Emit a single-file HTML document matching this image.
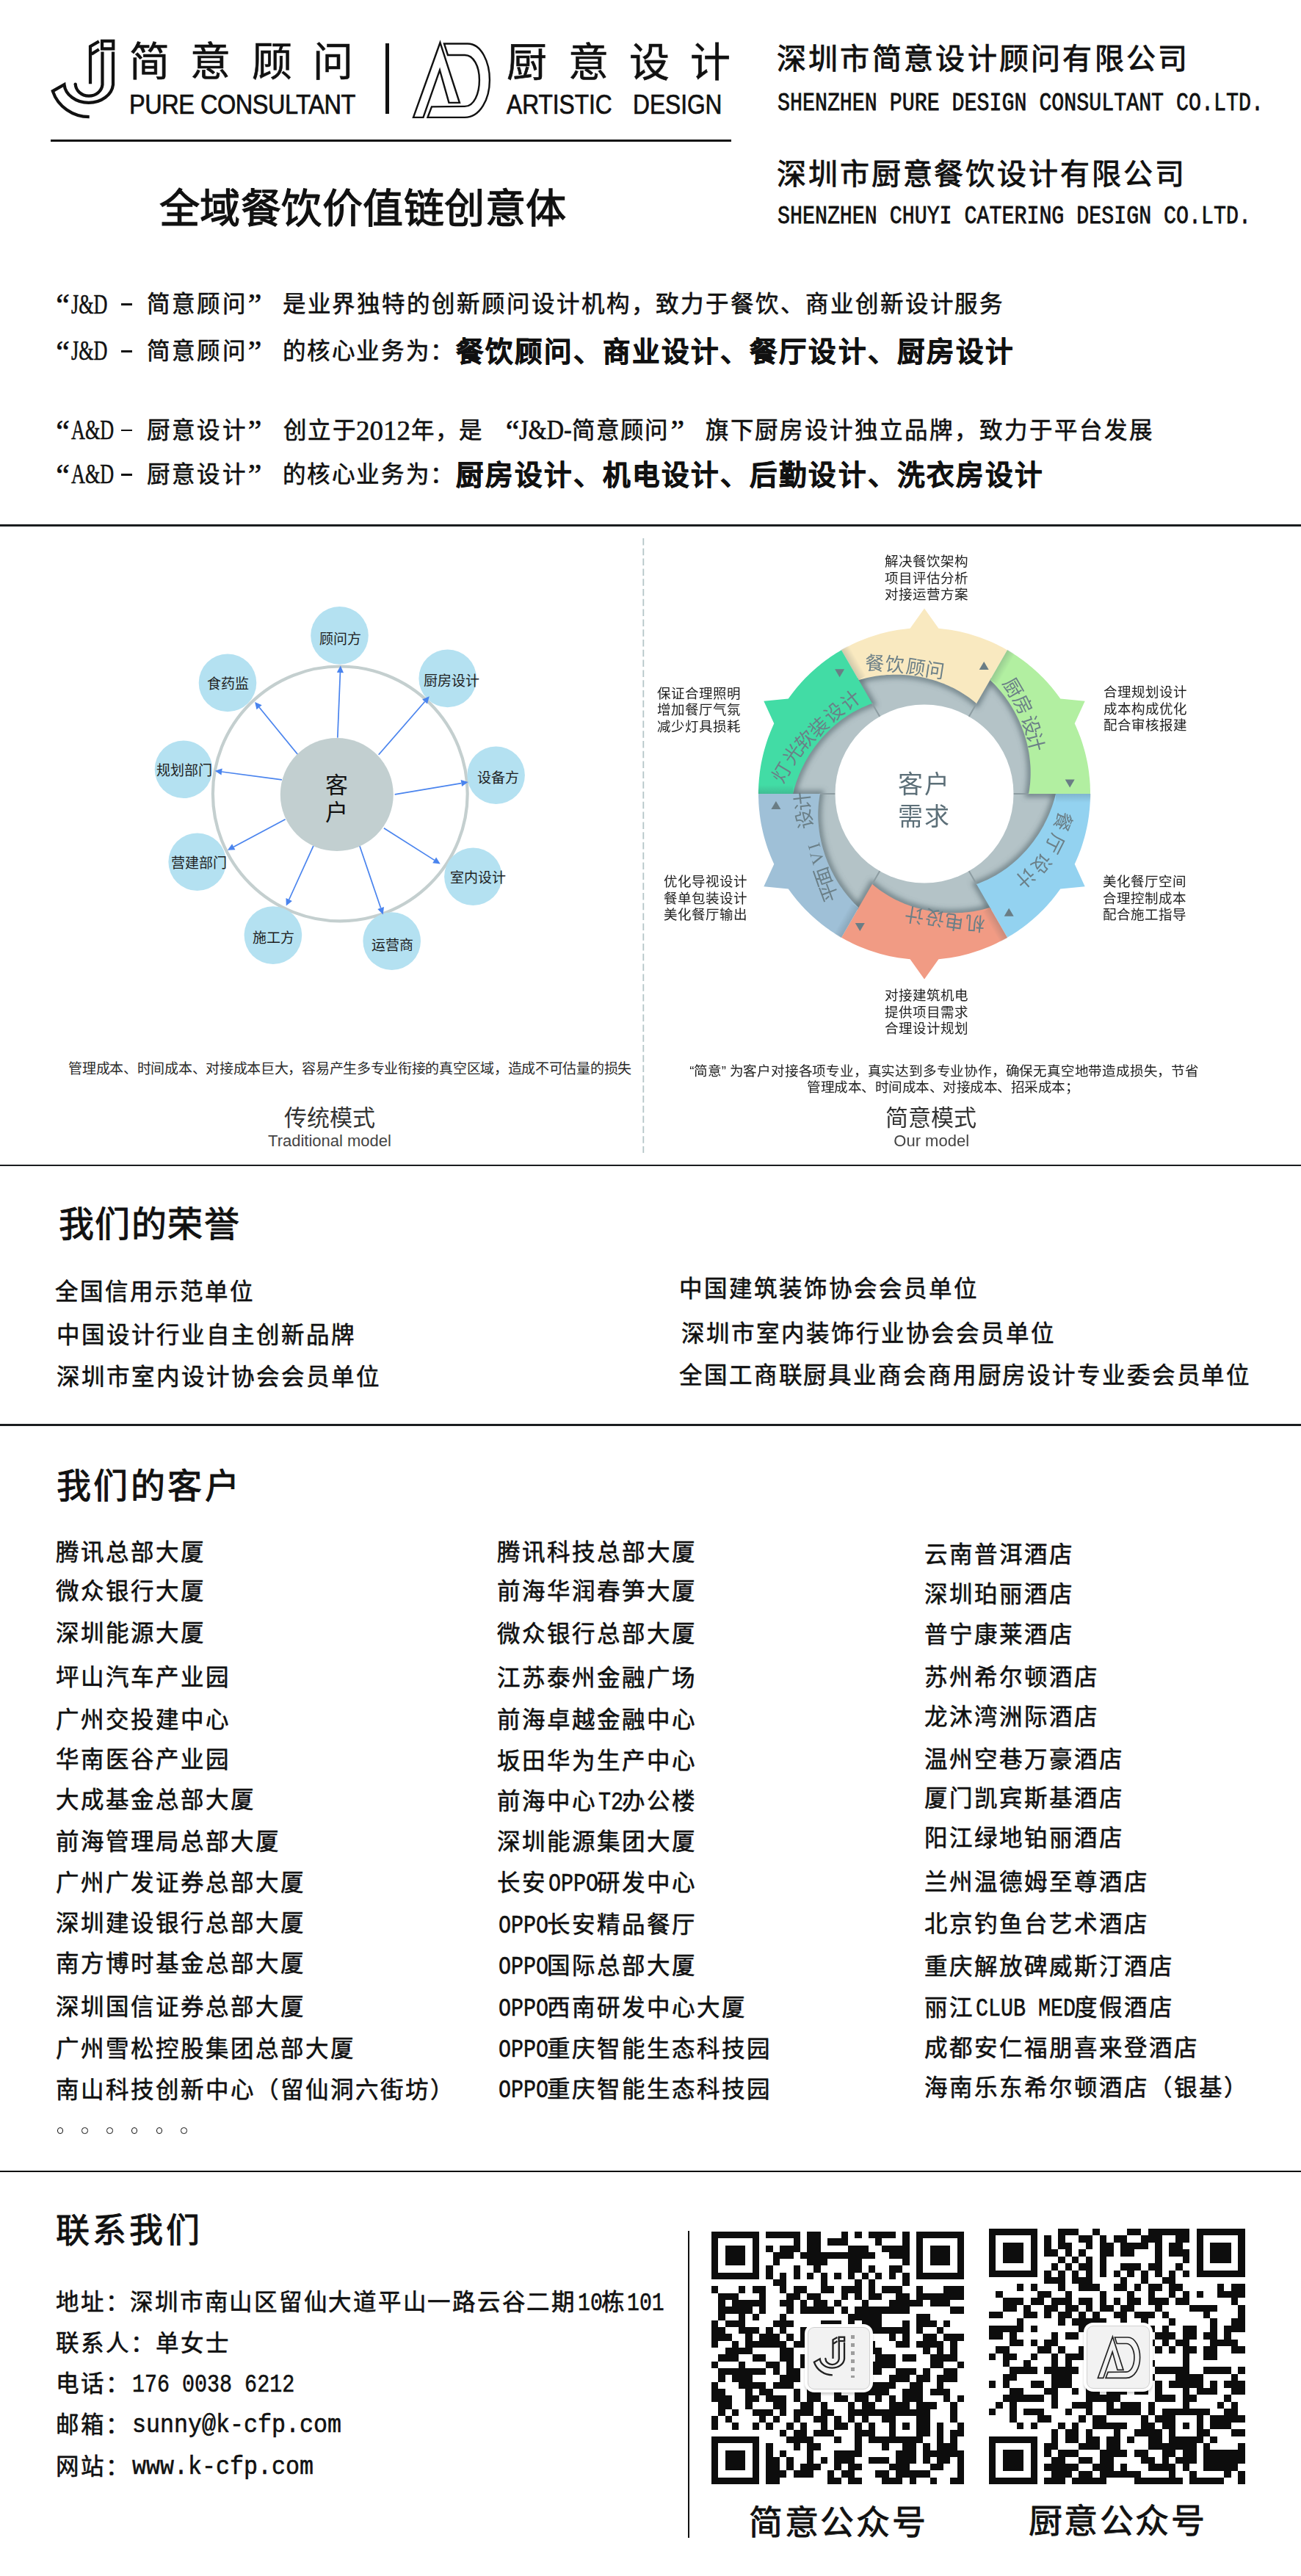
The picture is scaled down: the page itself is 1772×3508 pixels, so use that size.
<!DOCTYPE html>
<html lang="zh-CN"><head><meta charset="utf-8"><title>J&amp;D</title>
<style>
html,body{margin:0;padding:0;background:#fff}
body{width:1772px;height:3508px;position:relative;overflow:hidden}
.t{position:absolute;white-space:nowrap}
.t i{display:inline-block;font-style:normal}
</style></head><body>
<div class="t" style="left:79.6px;top:1643.6px;font-size:48.0px;line-height:48.0px;color:#111;font-weight:normal;font-family:'Liberation Serif', serif;-webkit-text-stroke:1.00px #111;"><i style="width:49.50px">我</i><i style="width:49.50px">们</i><i style="width:49.50px">的</i><i style="width:49.50px">荣</i><i style="width:49.50px">誉</i></div>
<div class="t" style="left:74.6px;top:1743.7px;font-size:31.5px;line-height:31.5px;color:#111;font-weight:normal;font-family:'Liberation Serif', serif;-webkit-text-stroke:0.60px #111;"><i style="width:34.00px">全</i><i style="width:34.00px">国</i><i style="width:34.00px">信</i><i style="width:34.00px">用</i><i style="width:34.00px">示</i><i style="width:34.00px">范</i><i style="width:34.00px">单</i><i style="width:34.00px">位</i></div>
<div class="t" style="left:76.6px;top:1802.5px;font-size:31.5px;line-height:31.5px;color:#111;font-weight:normal;font-family:'Liberation Serif', serif;-webkit-text-stroke:0.60px #111;"><i style="width:34.00px">中</i><i style="width:34.00px">国</i><i style="width:34.00px">设</i><i style="width:34.00px">计</i><i style="width:34.00px">行</i><i style="width:34.00px">业</i><i style="width:34.00px">自</i><i style="width:34.00px">主</i><i style="width:34.00px">创</i><i style="width:34.00px">新</i><i style="width:34.00px">品</i><i style="width:34.00px">牌</i></div>
<div class="t" style="left:76.6px;top:1859.5px;font-size:31.5px;line-height:31.5px;color:#111;font-weight:normal;font-family:'Liberation Serif', serif;-webkit-text-stroke:0.60px #111;"><i style="width:34.00px">深</i><i style="width:34.00px">圳</i><i style="width:34.00px">市</i><i style="width:34.00px">室</i><i style="width:34.00px">内</i><i style="width:34.00px">设</i><i style="width:34.00px">计</i><i style="width:34.00px">协</i><i style="width:34.00px">会</i><i style="width:34.00px">会</i><i style="width:34.00px">员</i><i style="width:34.00px">单</i><i style="width:34.00px">位</i></div>
<div class="t" style="left:925.1px;top:1739.5px;font-size:31.5px;line-height:31.5px;color:#111;font-weight:normal;font-family:'Liberation Serif', serif;-webkit-text-stroke:0.60px #111;"><i style="width:34.00px">中</i><i style="width:34.00px">国</i><i style="width:34.00px">建</i><i style="width:34.00px">筑</i><i style="width:34.00px">装</i><i style="width:34.00px">饰</i><i style="width:34.00px">协</i><i style="width:34.00px">会</i><i style="width:34.00px">会</i><i style="width:34.00px">员</i><i style="width:34.00px">单</i><i style="width:34.00px">位</i></div>
<div class="t" style="left:928.1px;top:1800.8px;font-size:31.5px;line-height:31.5px;color:#111;font-weight:normal;font-family:'Liberation Serif', serif;-webkit-text-stroke:0.60px #111;"><i style="width:34.00px">深</i><i style="width:34.00px">圳</i><i style="width:34.00px">市</i><i style="width:34.00px">室</i><i style="width:34.00px">内</i><i style="width:34.00px">装</i><i style="width:34.00px">饰</i><i style="width:34.00px">行</i><i style="width:34.00px">业</i><i style="width:34.00px">协</i><i style="width:34.00px">会</i><i style="width:34.00px">会</i><i style="width:34.00px">员</i><i style="width:34.00px">单</i><i style="width:34.00px">位</i></div>
<div class="t" style="left:925.1px;top:1858.0px;font-size:31.5px;line-height:31.5px;color:#111;font-weight:normal;font-family:'Liberation Serif', serif;-webkit-text-stroke:0.60px #111;"><i style="width:33.88px">全</i><i style="width:33.88px">国</i><i style="width:33.88px">工</i><i style="width:33.88px">商</i><i style="width:33.88px">联</i><i style="width:33.88px">厨</i><i style="width:33.88px">具</i><i style="width:33.88px">业</i><i style="width:33.88px">商</i><i style="width:33.88px">会</i><i style="width:33.88px">商</i><i style="width:33.88px">用</i><i style="width:33.88px">厨</i><i style="width:33.88px">房</i><i style="width:33.88px">设</i><i style="width:33.88px">计</i><i style="width:33.88px">专</i><i style="width:33.88px">业</i><i style="width:33.88px">委</i><i style="width:33.88px">会</i><i style="width:33.88px">员</i><i style="width:33.88px">单</i><i style="width:33.88px">位</i></div>
<div class="t" style="left:77.1px;top:2000.8px;font-size:47.0px;line-height:47.0px;color:#111;font-weight:normal;font-family:'Liberation Serif', serif;-webkit-text-stroke:1.00px #111;"><i style="width:50.40px">我</i><i style="width:50.40px">们</i><i style="width:50.40px">的</i><i style="width:50.40px">客</i><i style="width:50.40px">户</i></div>
<div class="t" style="left:76.1px;top:2099.2px;font-size:31.5px;line-height:31.5px;color:#111;font-weight:normal;font-family:'Liberation Serif', serif;-webkit-text-stroke:0.60px #111;"><i style="width:34.00px">腾</i><i style="width:34.00px">讯</i><i style="width:34.00px">总</i><i style="width:34.00px">部</i><i style="width:34.00px">大</i><i style="width:34.00px">厦</i></div>
<div class="t" style="left:677.1px;top:2099.1px;font-size:31.5px;line-height:31.5px;color:#111;font-weight:normal;font-family:'Liberation Serif', serif;-webkit-text-stroke:0.60px #111;"><i style="width:34.00px">腾</i><i style="width:34.00px">讯</i><i style="width:34.00px">科</i><i style="width:34.00px">技</i><i style="width:34.00px">总</i><i style="width:34.00px">部</i><i style="width:34.00px">大</i><i style="width:34.00px">厦</i></div>
<div class="t" style="left:1259.1px;top:2101.6px;font-size:31.5px;line-height:31.5px;color:#111;font-weight:normal;font-family:'Liberation Serif', serif;-webkit-text-stroke:0.60px #111;"><i style="width:34.00px">云</i><i style="width:34.00px">南</i><i style="width:34.00px">普</i><i style="width:34.00px">洱</i><i style="width:34.00px">酒</i><i style="width:34.00px">店</i></div>
<div class="t" style="left:76.1px;top:2152.0px;font-size:31.5px;line-height:31.5px;color:#111;font-weight:normal;font-family:'Liberation Serif', serif;-webkit-text-stroke:0.60px #111;"><i style="width:34.00px">微</i><i style="width:34.00px">众</i><i style="width:34.00px">银</i><i style="width:34.00px">行</i><i style="width:34.00px">大</i><i style="width:34.00px">厦</i></div>
<div class="t" style="left:677.1px;top:2152.1px;font-size:31.5px;line-height:31.5px;color:#111;font-weight:normal;font-family:'Liberation Serif', serif;-webkit-text-stroke:0.60px #111;"><i style="width:34.00px">前</i><i style="width:34.00px">海</i><i style="width:34.00px">华</i><i style="width:34.00px">润</i><i style="width:34.00px">春</i><i style="width:34.00px">笋</i><i style="width:34.00px">大</i><i style="width:34.00px">厦</i></div>
<div class="t" style="left:1259.1px;top:2155.6px;font-size:31.5px;line-height:31.5px;color:#111;font-weight:normal;font-family:'Liberation Serif', serif;-webkit-text-stroke:0.60px #111;"><i style="width:34.00px">深</i><i style="width:34.00px">圳</i><i style="width:34.00px">珀</i><i style="width:34.00px">丽</i><i style="width:34.00px">酒</i><i style="width:34.00px">店</i></div>
<div class="t" style="left:76.1px;top:2209.0px;font-size:31.5px;line-height:31.5px;color:#111;font-weight:normal;font-family:'Liberation Serif', serif;-webkit-text-stroke:0.60px #111;"><i style="width:34.00px">深</i><i style="width:34.00px">圳</i><i style="width:34.00px">能</i><i style="width:34.00px">源</i><i style="width:34.00px">大</i><i style="width:34.00px">厦</i></div>
<div class="t" style="left:677.1px;top:2209.6px;font-size:31.5px;line-height:31.5px;color:#111;font-weight:normal;font-family:'Liberation Serif', serif;-webkit-text-stroke:0.60px #111;"><i style="width:34.00px">微</i><i style="width:34.00px">众</i><i style="width:34.00px">银</i><i style="width:34.00px">行</i><i style="width:34.00px">总</i><i style="width:34.00px">部</i><i style="width:34.00px">大</i><i style="width:34.00px">厦</i></div>
<div class="t" style="left:1259.1px;top:2211.3px;font-size:31.5px;line-height:31.5px;color:#111;font-weight:normal;font-family:'Liberation Serif', serif;-webkit-text-stroke:0.60px #111;"><i style="width:34.00px">普</i><i style="width:34.00px">宁</i><i style="width:34.00px">康</i><i style="width:34.00px">莱</i><i style="width:34.00px">酒</i><i style="width:34.00px">店</i></div>
<div class="t" style="left:76.1px;top:2268.5px;font-size:31.5px;line-height:31.5px;color:#111;font-weight:normal;font-family:'Liberation Serif', serif;-webkit-text-stroke:0.60px #111;"><i style="width:34.00px">坪</i><i style="width:34.00px">山</i><i style="width:34.00px">汽</i><i style="width:34.00px">车</i><i style="width:34.00px">产</i><i style="width:34.00px">业</i><i style="width:34.00px">园</i></div>
<div class="t" style="left:677.1px;top:2269.6px;font-size:31.5px;line-height:31.5px;color:#111;font-weight:normal;font-family:'Liberation Serif', serif;-webkit-text-stroke:0.60px #111;"><i style="width:34.00px">江</i><i style="width:34.00px">苏</i><i style="width:34.00px">泰</i><i style="width:34.00px">州</i><i style="width:34.00px">金</i><i style="width:34.00px">融</i><i style="width:34.00px">广</i><i style="width:34.00px">场</i></div>
<div class="t" style="left:1259.1px;top:2268.6px;font-size:31.5px;line-height:31.5px;color:#111;font-weight:normal;font-family:'Liberation Serif', serif;-webkit-text-stroke:0.60px #111;"><i style="width:34.00px">苏</i><i style="width:34.00px">州</i><i style="width:34.00px">希</i><i style="width:34.00px">尔</i><i style="width:34.00px">顿</i><i style="width:34.00px">酒</i><i style="width:34.00px">店</i></div>
<div class="t" style="left:76.1px;top:2326.8px;font-size:31.5px;line-height:31.5px;color:#111;font-weight:normal;font-family:'Liberation Serif', serif;-webkit-text-stroke:0.60px #111;"><i style="width:34.00px">广</i><i style="width:34.00px">州</i><i style="width:34.00px">交</i><i style="width:34.00px">投</i><i style="width:34.00px">建</i><i style="width:34.00px">中</i><i style="width:34.00px">心</i></div>
<div class="t" style="left:677.1px;top:2327.4px;font-size:31.5px;line-height:31.5px;color:#111;font-weight:normal;font-family:'Liberation Serif', serif;-webkit-text-stroke:0.60px #111;"><i style="width:34.00px">前</i><i style="width:34.00px">海</i><i style="width:34.00px">卓</i><i style="width:34.00px">越</i><i style="width:34.00px">金</i><i style="width:34.00px">融</i><i style="width:34.00px">中</i><i style="width:34.00px">心</i></div>
<div class="t" style="left:1259.1px;top:2322.6px;font-size:31.5px;line-height:31.5px;color:#111;font-weight:normal;font-family:'Liberation Serif', serif;-webkit-text-stroke:0.60px #111;"><i style="width:34.00px">龙</i><i style="width:34.00px">沐</i><i style="width:34.00px">湾</i><i style="width:34.00px">洲</i><i style="width:34.00px">际</i><i style="width:34.00px">酒</i><i style="width:34.00px">店</i></div>
<div class="t" style="left:76.1px;top:2381.3px;font-size:31.5px;line-height:31.5px;color:#111;font-weight:normal;font-family:'Liberation Serif', serif;-webkit-text-stroke:0.60px #111;"><i style="width:34.00px">华</i><i style="width:34.00px">南</i><i style="width:34.00px">医</i><i style="width:34.00px">谷</i><i style="width:34.00px">产</i><i style="width:34.00px">业</i><i style="width:34.00px">园</i></div>
<div class="t" style="left:677.1px;top:2382.6px;font-size:31.5px;line-height:31.5px;color:#111;font-weight:normal;font-family:'Liberation Serif', serif;-webkit-text-stroke:0.60px #111;"><i style="width:34.00px">坂</i><i style="width:34.00px">田</i><i style="width:34.00px">华</i><i style="width:34.00px">为</i><i style="width:34.00px">生</i><i style="width:34.00px">产</i><i style="width:34.00px">中</i><i style="width:34.00px">心</i></div>
<div class="t" style="left:1259.1px;top:2380.6px;font-size:31.5px;line-height:31.5px;color:#111;font-weight:normal;font-family:'Liberation Serif', serif;-webkit-text-stroke:0.60px #111;"><i style="width:34.00px">温</i><i style="width:34.00px">州</i><i style="width:34.00px">空</i><i style="width:34.00px">巷</i><i style="width:34.00px">万</i><i style="width:34.00px">豪</i><i style="width:34.00px">酒</i><i style="width:34.00px">店</i></div>
<div class="t" style="left:76.1px;top:2435.8px;font-size:31.5px;line-height:31.5px;color:#111;font-weight:normal;font-family:'Liberation Serif', serif;-webkit-text-stroke:0.60px #111;"><i style="width:34.00px">大</i><i style="width:34.00px">成</i><i style="width:34.00px">基</i><i style="width:34.00px">金</i><i style="width:34.00px">总</i><i style="width:34.00px">部</i><i style="width:34.00px">大</i><i style="width:34.00px">厦</i></div>
<div class="t" style="left:677.1px;top:2438.1px;font-size:31.5px;line-height:31.5px;color:#111;font-weight:normal;font-family:'Liberation Serif', serif;-webkit-text-stroke:0.60px #111;"><i style="width:34.00px">前</i><i style="width:34.00px">海</i><i style="width:34.00px">中</i><i style="width:34.00px">心</i></div>
<div class="t" style="left:814.5px;top:2438.0px;font-size:35.0px;line-height:35.0px;font-family:'Liberation Mono', monospace;-webkit-text-stroke:0.6px #111;color:#111;transform:scaleX(0.810);transform-origin:0 0">T2</div>
<div class="t" style="left:847.1px;top:2438.1px;font-size:31.5px;line-height:31.5px;color:#111;font-weight:normal;font-family:'Liberation Serif', serif;-webkit-text-stroke:0.60px #111;"><i style="width:34.00px">办</i><i style="width:34.00px">公</i><i style="width:34.00px">楼</i></div>
<div class="t" style="left:1259.1px;top:2434.2px;font-size:31.5px;line-height:31.5px;color:#111;font-weight:normal;font-family:'Liberation Serif', serif;-webkit-text-stroke:0.60px #111;"><i style="width:34.00px">厦</i><i style="width:34.00px">门</i><i style="width:34.00px">凯</i><i style="width:34.00px">宾</i><i style="width:34.00px">斯</i><i style="width:34.00px">基</i><i style="width:34.00px">酒</i><i style="width:34.00px">店</i></div>
<div class="t" style="left:76.1px;top:2493.4px;font-size:31.5px;line-height:31.5px;color:#111;font-weight:normal;font-family:'Liberation Serif', serif;-webkit-text-stroke:0.60px #111;"><i style="width:34.00px">前</i><i style="width:34.00px">海</i><i style="width:34.00px">管</i><i style="width:34.00px">理</i><i style="width:34.00px">局</i><i style="width:34.00px">总</i><i style="width:34.00px">部</i><i style="width:34.00px">大</i><i style="width:34.00px">厦</i></div>
<div class="t" style="left:677.1px;top:2493.4px;font-size:31.5px;line-height:31.5px;color:#111;font-weight:normal;font-family:'Liberation Serif', serif;-webkit-text-stroke:0.60px #111;"><i style="width:34.00px">深</i><i style="width:34.00px">圳</i><i style="width:34.00px">能</i><i style="width:34.00px">源</i><i style="width:34.00px">集</i><i style="width:34.00px">团</i><i style="width:34.00px">大</i><i style="width:34.00px">厦</i></div>
<div class="t" style="left:1259.1px;top:2487.6px;font-size:31.5px;line-height:31.5px;color:#111;font-weight:normal;font-family:'Liberation Serif', serif;-webkit-text-stroke:0.60px #111;"><i style="width:34.00px">阳</i><i style="width:34.00px">江</i><i style="width:34.00px">绿</i><i style="width:34.00px">地</i><i style="width:34.00px">铂</i><i style="width:34.00px">丽</i><i style="width:34.00px">酒</i><i style="width:34.00px">店</i></div>
<div class="t" style="left:76.1px;top:2549.3px;font-size:31.5px;line-height:31.5px;color:#111;font-weight:normal;font-family:'Liberation Serif', serif;-webkit-text-stroke:0.60px #111;"><i style="width:34.00px">广</i><i style="width:34.00px">州</i><i style="width:34.00px">广</i><i style="width:34.00px">发</i><i style="width:34.00px">证</i><i style="width:34.00px">券</i><i style="width:34.00px">总</i><i style="width:34.00px">部</i><i style="width:34.00px">大</i><i style="width:34.00px">厦</i></div>
<div class="t" style="left:677.1px;top:2548.6px;font-size:31.5px;line-height:31.5px;color:#111;font-weight:normal;font-family:'Liberation Serif', serif;-webkit-text-stroke:0.60px #111;"><i style="width:34.00px">长</i><i style="width:34.00px">安</i></div>
<div class="t" style="left:746.5px;top:2548.5px;font-size:35.0px;line-height:35.0px;font-family:'Liberation Mono', monospace;-webkit-text-stroke:0.6px #111;color:#111;transform:scaleX(0.810);transform-origin:0 0">OPPO</div>
<div class="t" style="left:813.1px;top:2548.6px;font-size:31.5px;line-height:31.5px;color:#111;font-weight:normal;font-family:'Liberation Serif', serif;-webkit-text-stroke:0.60px #111;"><i style="width:34.00px">研</i><i style="width:34.00px">发</i><i style="width:34.00px">中</i><i style="width:34.00px">心</i></div>
<div class="t" style="left:1259.1px;top:2547.6px;font-size:31.5px;line-height:31.5px;color:#111;font-weight:normal;font-family:'Liberation Serif', serif;-webkit-text-stroke:0.60px #111;"><i style="width:34.00px">兰</i><i style="width:34.00px">州</i><i style="width:34.00px">温</i><i style="width:34.00px">德</i><i style="width:34.00px">姆</i><i style="width:34.00px">至</i><i style="width:34.00px">尊</i><i style="width:34.00px">酒</i><i style="width:34.00px">店</i></div>
<div class="t" style="left:76.1px;top:2604.0px;font-size:31.5px;line-height:31.5px;color:#111;font-weight:normal;font-family:'Liberation Serif', serif;-webkit-text-stroke:0.60px #111;"><i style="width:34.00px">深</i><i style="width:34.00px">圳</i><i style="width:34.00px">建</i><i style="width:34.00px">设</i><i style="width:34.00px">银</i><i style="width:34.00px">行</i><i style="width:34.00px">总</i><i style="width:34.00px">部</i><i style="width:34.00px">大</i><i style="width:34.00px">厦</i></div>
<div class="t" style="left:678.5px;top:2606.3px;font-size:35.0px;line-height:35.0px;font-family:'Liberation Mono', monospace;-webkit-text-stroke:0.6px #111;color:#111;transform:scaleX(0.810);transform-origin:0 0">OPPO</div>
<div class="t" style="left:745.1px;top:2606.4px;font-size:31.5px;line-height:31.5px;color:#111;font-weight:normal;font-family:'Liberation Serif', serif;-webkit-text-stroke:0.60px #111;"><i style="width:34.00px">长</i><i style="width:34.00px">安</i><i style="width:34.00px">精</i><i style="width:34.00px">品</i><i style="width:34.00px">餐</i><i style="width:34.00px">厅</i></div>
<div class="t" style="left:1259.1px;top:2605.2px;font-size:31.5px;line-height:31.5px;color:#111;font-weight:normal;font-family:'Liberation Serif', serif;-webkit-text-stroke:0.60px #111;"><i style="width:34.00px">北</i><i style="width:34.00px">京</i><i style="width:34.00px">钓</i><i style="width:34.00px">鱼</i><i style="width:34.00px">台</i><i style="width:34.00px">艺</i><i style="width:34.00px">术</i><i style="width:34.00px">酒</i><i style="width:34.00px">店</i></div>
<div class="t" style="left:76.1px;top:2659.4px;font-size:31.5px;line-height:31.5px;color:#111;font-weight:normal;font-family:'Liberation Serif', serif;-webkit-text-stroke:0.60px #111;"><i style="width:34.00px">南</i><i style="width:34.00px">方</i><i style="width:34.00px">博</i><i style="width:34.00px">时</i><i style="width:34.00px">基</i><i style="width:34.00px">金</i><i style="width:34.00px">总</i><i style="width:34.00px">部</i><i style="width:34.00px">大</i><i style="width:34.00px">厦</i></div>
<div class="t" style="left:678.5px;top:2661.5px;font-size:35.0px;line-height:35.0px;font-family:'Liberation Mono', monospace;-webkit-text-stroke:0.6px #111;color:#111;transform:scaleX(0.810);transform-origin:0 0">OPPO</div>
<div class="t" style="left:745.1px;top:2661.6px;font-size:31.5px;line-height:31.5px;color:#111;font-weight:normal;font-family:'Liberation Serif', serif;-webkit-text-stroke:0.60px #111;"><i style="width:34.00px">国</i><i style="width:34.00px">际</i><i style="width:34.00px">总</i><i style="width:34.00px">部</i><i style="width:34.00px">大</i><i style="width:34.00px">厦</i></div>
<div class="t" style="left:1259.1px;top:2662.6px;font-size:31.5px;line-height:31.5px;color:#111;font-weight:normal;font-family:'Liberation Serif', serif;-webkit-text-stroke:0.60px #111;"><i style="width:34.00px">重</i><i style="width:34.00px">庆</i><i style="width:34.00px">解</i><i style="width:34.00px">放</i><i style="width:34.00px">碑</i><i style="width:34.00px">威</i><i style="width:34.00px">斯</i><i style="width:34.00px">汀</i><i style="width:34.00px">酒</i><i style="width:34.00px">店</i></div>
<div class="t" style="left:76.1px;top:2717.8px;font-size:31.5px;line-height:31.5px;color:#111;font-weight:normal;font-family:'Liberation Serif', serif;-webkit-text-stroke:0.60px #111;"><i style="width:34.00px">深</i><i style="width:34.00px">圳</i><i style="width:34.00px">国</i><i style="width:34.00px">信</i><i style="width:34.00px">证</i><i style="width:34.00px">券</i><i style="width:34.00px">总</i><i style="width:34.00px">部</i><i style="width:34.00px">大</i><i style="width:34.00px">厦</i></div>
<div class="t" style="left:678.5px;top:2719.3px;font-size:35.0px;line-height:35.0px;font-family:'Liberation Mono', monospace;-webkit-text-stroke:0.6px #111;color:#111;transform:scaleX(0.810);transform-origin:0 0">OPPO</div>
<div class="t" style="left:745.1px;top:2719.4px;font-size:31.5px;line-height:31.5px;color:#111;font-weight:normal;font-family:'Liberation Serif', serif;-webkit-text-stroke:0.60px #111;"><i style="width:34.00px">西</i><i style="width:34.00px">南</i><i style="width:34.00px">研</i><i style="width:34.00px">发</i><i style="width:34.00px">中</i><i style="width:34.00px">心</i><i style="width:34.00px">大</i><i style="width:34.00px">厦</i></div>
<div class="t" style="left:1259.1px;top:2718.6px;font-size:31.5px;line-height:31.5px;color:#111;font-weight:normal;font-family:'Liberation Serif', serif;-webkit-text-stroke:0.60px #111;"><i style="width:34.00px">丽</i><i style="width:34.00px">江</i></div>
<div class="t" style="left:1328.5px;top:2718.5px;font-size:35.0px;line-height:35.0px;font-family:'Liberation Mono', monospace;-webkit-text-stroke:0.6px #111;color:#111;transform:scaleX(0.810);transform-origin:0 0">CLUB&#160;MED</div>
<div class="t" style="left:1463.1px;top:2718.6px;font-size:31.5px;line-height:31.5px;color:#111;font-weight:normal;font-family:'Liberation Serif', serif;-webkit-text-stroke:0.60px #111;"><i style="width:34.00px">度</i><i style="width:34.00px">假</i><i style="width:34.00px">酒</i><i style="width:34.00px">店</i></div>
<div class="t" style="left:76.1px;top:2775.3px;font-size:31.5px;line-height:31.5px;color:#111;font-weight:normal;font-family:'Liberation Serif', serif;-webkit-text-stroke:0.60px #111;"><i style="width:34.00px">广</i><i style="width:34.00px">州</i><i style="width:34.00px">雪</i><i style="width:34.00px">松</i><i style="width:34.00px">控</i><i style="width:34.00px">股</i><i style="width:34.00px">集</i><i style="width:34.00px">团</i><i style="width:34.00px">总</i><i style="width:34.00px">部</i><i style="width:34.00px">大</i><i style="width:34.00px">厦</i></div>
<div class="t" style="left:678.5px;top:2774.5px;font-size:35.0px;line-height:35.0px;font-family:'Liberation Mono', monospace;-webkit-text-stroke:0.6px #111;color:#111;transform:scaleX(0.810);transform-origin:0 0">OPPO</div>
<div class="t" style="left:745.1px;top:2774.6px;font-size:31.5px;line-height:31.5px;color:#111;font-weight:normal;font-family:'Liberation Serif', serif;-webkit-text-stroke:0.60px #111;"><i style="width:34.00px">重</i><i style="width:34.00px">庆</i><i style="width:34.00px">智</i><i style="width:34.00px">能</i><i style="width:34.00px">生</i><i style="width:34.00px">态</i><i style="width:34.00px">科</i><i style="width:34.00px">技</i><i style="width:34.00px">园</i></div>
<div class="t" style="left:1259.1px;top:2774.3px;font-size:31.5px;line-height:31.5px;color:#111;font-weight:normal;font-family:'Liberation Serif', serif;-webkit-text-stroke:0.60px #111;"><i style="width:34.00px">成</i><i style="width:34.00px">都</i><i style="width:34.00px">安</i><i style="width:34.00px">仁</i><i style="width:34.00px">福</i><i style="width:34.00px">朋</i><i style="width:34.00px">喜</i><i style="width:34.00px">来</i><i style="width:34.00px">登</i><i style="width:34.00px">酒</i><i style="width:34.00px">店</i></div>
<div class="t" style="left:76.1px;top:2830.8px;font-size:31.5px;line-height:31.5px;color:#111;font-weight:normal;font-family:'Liberation Serif', serif;-webkit-text-stroke:0.60px #111;"><i style="width:34.00px">南</i><i style="width:34.00px">山</i><i style="width:34.00px">科</i><i style="width:34.00px">技</i><i style="width:34.00px">创</i><i style="width:34.00px">新</i><i style="width:34.00px">中</i><i style="width:34.00px">心</i><i style="width:34.00px">（</i><i style="width:34.00px">留</i><i style="width:34.00px">仙</i><i style="width:34.00px">洞</i><i style="width:34.00px">六</i><i style="width:34.00px">街</i><i style="width:34.00px">坊</i><i style="width:34.00px">）</i></div>
<div class="t" style="left:678.5px;top:2830.0px;font-size:35.0px;line-height:35.0px;font-family:'Liberation Mono', monospace;-webkit-text-stroke:0.6px #111;color:#111;transform:scaleX(0.810);transform-origin:0 0">OPPO</div>
<div class="t" style="left:745.1px;top:2830.1px;font-size:31.5px;line-height:31.5px;color:#111;font-weight:normal;font-family:'Liberation Serif', serif;-webkit-text-stroke:0.60px #111;"><i style="width:34.00px">重</i><i style="width:34.00px">庆</i><i style="width:34.00px">智</i><i style="width:34.00px">能</i><i style="width:34.00px">生</i><i style="width:34.00px">态</i><i style="width:34.00px">科</i><i style="width:34.00px">技</i><i style="width:34.00px">园</i></div>
<div class="t" style="left:1259.1px;top:2828.1px;font-size:31.5px;line-height:31.5px;color:#111;font-weight:normal;font-family:'Liberation Serif', serif;-webkit-text-stroke:0.60px #111;"><i style="width:34.00px">海</i><i style="width:34.00px">南</i><i style="width:34.00px">乐</i><i style="width:34.00px">东</i><i style="width:34.00px">希</i><i style="width:34.00px">尔</i><i style="width:34.00px">顿</i><i style="width:34.00px">酒</i><i style="width:34.00px">店</i><i style="width:34.00px">（</i><i style="width:34.00px">银</i><i style="width:34.00px">基</i><i style="width:34.00px">）</i></div>
<div style="position:absolute;left:77.6px;top:2897.3px;width:6.5px;height:6.5px;border:1.6px solid #111;border-radius:50%"></div>
<div style="position:absolute;left:111.4px;top:2897.3px;width:6.5px;height:6.5px;border:1.6px solid #111;border-radius:50%"></div>
<div style="position:absolute;left:145.1px;top:2897.3px;width:6.5px;height:6.5px;border:1.6px solid #111;border-radius:50%"></div>
<div style="position:absolute;left:178.9px;top:2897.3px;width:6.5px;height:6.5px;border:1.6px solid #111;border-radius:50%"></div>
<div style="position:absolute;left:212.6px;top:2897.3px;width:6.5px;height:6.5px;border:1.6px solid #111;border-radius:50%"></div>
<div style="position:absolute;left:246.4px;top:2897.3px;width:6.5px;height:6.5px;border:1.6px solid #111;border-radius:50%"></div>
<div class="t" style="left:75.6px;top:3014.5px;font-size:46.0px;line-height:46.0px;color:#111;font-weight:normal;font-family:'Liberation Serif', serif;-webkit-text-stroke:1.00px #111;"><i style="width:50.00px">联</i><i style="width:50.00px">系</i><i style="width:50.00px">我</i><i style="width:50.00px">们</i></div>
<div class="t" style="left:76.1px;top:3120.2px;font-size:31.5px;line-height:31.5px;color:#111;font-weight:normal;font-family:'Liberation Serif', serif;-webkit-text-stroke:0.60px #111;"><i style="width:33.76px">地</i><i style="width:33.76px">址</i><i style="width:33.76px">：</i><i style="width:33.76px">深</i><i style="width:33.76px">圳</i><i style="width:33.76px">市</i><i style="width:33.76px">南</i><i style="width:33.76px">山</i><i style="width:33.76px">区</i><i style="width:33.76px">留</i><i style="width:33.76px">仙</i><i style="width:33.76px">大</i><i style="width:33.76px">道</i><i style="width:33.76px">平</i><i style="width:33.76px">山</i><i style="width:33.76px">一</i><i style="width:33.76px">路</i><i style="width:33.76px">云</i><i style="width:33.76px">谷</i><i style="width:33.76px">二</i><i style="width:33.76px">期</i></div>
<div class="t" style="left:786.5px;top:3120.1px;font-size:35.0px;line-height:35.0px;font-family:'Liberation Mono', monospace;-webkit-text-stroke:0.6px #111;color:#111;transform:scaleX(0.804);transform-origin:0 0">10</div>
<div class="t" style="left:818.8px;top:3120.2px;font-size:31.5px;line-height:31.5px;color:#111;font-weight:normal;font-family:'Liberation Serif', serif;-webkit-text-stroke:0.60px #111;">栋</div>
<div class="t" style="left:854.0px;top:3120.1px;font-size:35.0px;line-height:35.0px;font-family:'Liberation Mono', monospace;-webkit-text-stroke:0.6px #111;color:#111;transform:scaleX(0.804);transform-origin:0 0">101</div>
<div class="t" style="left:76.1px;top:3175.8px;font-size:31.5px;line-height:31.5px;color:#111;font-weight:normal;font-family:'Liberation Serif', serif;-webkit-text-stroke:0.60px #111;"><i style="width:34.00px">联</i><i style="width:34.00px">系</i><i style="width:34.00px">人</i><i style="width:34.00px">：</i><i style="width:34.00px">单</i><i style="width:34.00px">女</i><i style="width:34.00px">士</i></div>
<div class="t" style="left:76.1px;top:3230.8px;font-size:31.5px;line-height:31.5px;color:#111;font-weight:normal;font-family:'Liberation Serif', serif;-webkit-text-stroke:0.60px #111;"><i style="width:34.00px">电</i><i style="width:34.00px">话</i><i style="width:34.00px">：</i></div>
<div class="t" style="left:179.5px;top:3230.8px;font-size:35.0px;line-height:35.0px;font-family:'Liberation Mono', monospace;-webkit-text-stroke:0.6px #111;color:#111;transform:scaleX(0.810);transform-origin:0 0">176&#160;0038&#160;6212</div>
<div class="t" style="left:76.1px;top:3286.5px;font-size:31.5px;line-height:31.5px;color:#111;font-weight:normal;font-family:'Liberation Serif', serif;-webkit-text-stroke:0.60px #111;"><i style="width:34.00px">邮</i><i style="width:34.00px">箱</i><i style="width:34.00px">：</i></div>
<div class="t" style="left:179.5px;top:3286.4px;font-size:35.0px;line-height:35.0px;font-family:'Liberation Mono', monospace;-webkit-text-stroke:0.6px #111;color:#111;transform:scaleX(0.905);transform-origin:0 0">sunny@k-cfp.com</div>
<div class="t" style="left:76.1px;top:3343.5px;font-size:31.5px;line-height:31.5px;color:#111;font-weight:normal;font-family:'Liberation Serif', serif;-webkit-text-stroke:0.60px #111;"><i style="width:34.00px">网</i><i style="width:34.00px">站</i><i style="width:34.00px">：</i></div>
<div class="t" style="left:179.5px;top:3343.4px;font-size:35.0px;line-height:35.0px;font-family:'Liberation Mono', monospace;-webkit-text-stroke:0.6px #111;color:#111;transform:scaleX(0.905);transform-origin:0 0">www.k-cfp.com</div>
<div style="position:absolute;left:936.8px;top:3037.8px;width:2px;height:418px;background:#111"></div>
<svg style="position:absolute;left:968.6px;top:3038.6px" width="344.0" height="344.0" viewBox="0 0 37 37" shape-rendering="crispEdges"><g fill="#0d0d0d"><rect x="0" y="0" width="7" height="1"/><rect x="8" y="0" width="5" height="1"/><rect x="14" y="0" width="2" height="1"/><rect x="19" y="0" width="1" height="1"/><rect x="21" y="0" width="1" height="1"/><rect x="23" y="0" width="4" height="1"/><rect x="28" y="0" width="1" height="1"/><rect x="30" y="0" width="7" height="1"/><rect x="0" y="1" width="1" height="1"/><rect x="6" y="1" width="1" height="1"/><rect x="12" y="1" width="1" height="1"/><rect x="14" y="1" width="2" height="1"/><rect x="17" y="1" width="3" height="1"/><rect x="24" y="1" width="1" height="1"/><rect x="28" y="1" width="1" height="1"/><rect x="30" y="1" width="1" height="1"/><rect x="36" y="1" width="1" height="1"/><rect x="0" y="2" width="1" height="1"/><rect x="2" y="2" width="3" height="1"/><rect x="6" y="2" width="1" height="1"/><rect x="8" y="2" width="1" height="1"/><rect x="10" y="2" width="3" height="1"/><rect x="14" y="2" width="2" height="1"/><rect x="20" y="2" width="3" height="1"/><rect x="25" y="2" width="4" height="1"/><rect x="30" y="2" width="1" height="1"/><rect x="32" y="2" width="3" height="1"/><rect x="36" y="2" width="1" height="1"/><rect x="0" y="3" width="1" height="1"/><rect x="2" y="3" width="3" height="1"/><rect x="6" y="3" width="1" height="1"/><rect x="9" y="3" width="3" height="1"/><rect x="13" y="3" width="11" height="1"/><rect x="26" y="3" width="3" height="1"/><rect x="30" y="3" width="1" height="1"/><rect x="32" y="3" width="3" height="1"/><rect x="36" y="3" width="1" height="1"/><rect x="0" y="4" width="1" height="1"/><rect x="2" y="4" width="3" height="1"/><rect x="6" y="4" width="1" height="1"/><rect x="9" y="4" width="1" height="1"/><rect x="14" y="4" width="3" height="1"/><rect x="20" y="4" width="2" height="1"/><rect x="28" y="4" width="1" height="1"/><rect x="30" y="4" width="1" height="1"/><rect x="32" y="4" width="3" height="1"/><rect x="36" y="4" width="1" height="1"/><rect x="0" y="5" width="1" height="1"/><rect x="6" y="5" width="1" height="1"/><rect x="8" y="5" width="1" height="1"/><rect x="12" y="5" width="1" height="1"/><rect x="15" y="5" width="1" height="1"/><rect x="20" y="5" width="2" height="1"/><rect x="23" y="5" width="1" height="1"/><rect x="26" y="5" width="2" height="1"/><rect x="30" y="5" width="1" height="1"/><rect x="36" y="5" width="1" height="1"/><rect x="0" y="6" width="7" height="1"/><rect x="8" y="6" width="1" height="1"/><rect x="10" y="6" width="1" height="1"/><rect x="12" y="6" width="1" height="1"/><rect x="14" y="6" width="1" height="1"/><rect x="16" y="6" width="1" height="1"/><rect x="18" y="6" width="1" height="1"/><rect x="20" y="6" width="1" height="1"/><rect x="22" y="6" width="1" height="1"/><rect x="24" y="6" width="1" height="1"/><rect x="26" y="6" width="1" height="1"/><rect x="28" y="6" width="1" height="1"/><rect x="30" y="6" width="7" height="1"/><rect x="9" y="7" width="2" height="1"/><rect x="16" y="7" width="1" height="1"/><rect x="21" y="7" width="1" height="1"/><rect x="23" y="7" width="1" height="1"/><rect x="28" y="7" width="1" height="1"/><rect x="0" y="8" width="1" height="1"/><rect x="4" y="8" width="1" height="1"/><rect x="6" y="8" width="2" height="1"/><rect x="10" y="8" width="1" height="1"/><rect x="12" y="8" width="2" height="1"/><rect x="16" y="8" width="2" height="1"/><rect x="19" y="8" width="3" height="1"/><rect x="23" y="8" width="1" height="1"/><rect x="25" y="8" width="3" height="1"/><rect x="30" y="8" width="1" height="1"/><rect x="34" y="8" width="3" height="1"/><rect x="1" y="9" width="3" height="1"/><rect x="7" y="9" width="1" height="1"/><rect x="11" y="9" width="2" height="1"/><rect x="14" y="9" width="2" height="1"/><rect x="19" y="9" width="1" height="1"/><rect x="21" y="9" width="1" height="1"/><rect x="23" y="9" width="2" height="1"/><rect x="27" y="9" width="2" height="1"/><rect x="30" y="9" width="7" height="1"/><rect x="1" y="10" width="1" height="1"/><rect x="3" y="10" width="5" height="1"/><rect x="10" y="10" width="2" height="1"/><rect x="13" y="10" width="1" height="1"/><rect x="15" y="10" width="2" height="1"/><rect x="18" y="10" width="1" height="1"/><rect x="22" y="10" width="1" height="1"/><rect x="26" y="10" width="5" height="1"/><rect x="32" y="10" width="3" height="1"/><rect x="1" y="11" width="5" height="1"/><rect x="7" y="11" width="1" height="1"/><rect x="11" y="11" width="1" height="1"/><rect x="13" y="11" width="5" height="1"/><rect x="19" y="11" width="1" height="1"/><rect x="21" y="11" width="8" height="1"/><rect x="35" y="11" width="2" height="1"/><rect x="1" y="12" width="1" height="1"/><rect x="4" y="12" width="1" height="1"/><rect x="6" y="12" width="1" height="1"/><rect x="10" y="12" width="1" height="1"/><rect x="20" y="12" width="5" height="1"/><rect x="30" y="12" width="2" height="1"/><rect x="0" y="13" width="1" height="1"/><rect x="2" y="13" width="3" height="1"/><rect x="9" y="13" width="3" height="1"/><rect x="16" y="13" width="3" height="1"/><rect x="20" y="13" width="1" height="1"/><rect x="22" y="13" width="3" height="1"/><rect x="28" y="13" width="1" height="1"/><rect x="30" y="13" width="3" height="1"/><rect x="34" y="13" width="1" height="1"/><rect x="0" y="14" width="2" height="1"/><rect x="4" y="14" width="3" height="1"/><rect x="8" y="14" width="1" height="1"/><rect x="10" y="14" width="1" height="1"/><rect x="13" y="14" width="1" height="1"/><rect x="18" y="14" width="1" height="1"/><rect x="20" y="14" width="9" height="1"/><rect x="30" y="14" width="1" height="1"/><rect x="33" y="14" width="1" height="1"/><rect x="0" y="15" width="3" height="1"/><rect x="5" y="15" width="1" height="1"/><rect x="7" y="15" width="3" height="1"/><rect x="11" y="15" width="1" height="1"/><rect x="13" y="15" width="2" height="1"/><rect x="16" y="15" width="2" height="1"/><rect x="26" y="15" width="1" height="1"/><rect x="28" y="15" width="1" height="1"/><rect x="31" y="15" width="2" height="1"/><rect x="34" y="15" width="3" height="1"/><rect x="0" y="16" width="1" height="1"/><rect x="3" y="16" width="1" height="1"/><rect x="5" y="16" width="6" height="1"/><rect x="12" y="16" width="2" height="1"/><rect x="16" y="16" width="8" height="1"/><rect x="27" y="16" width="2" height="1"/><rect x="30" y="16" width="4" height="1"/><rect x="35" y="16" width="1" height="1"/><rect x="2" y="17" width="4" height="1"/><rect x="10" y="17" width="2" height="1"/><rect x="14" y="17" width="1" height="1"/><rect x="16" y="17" width="2" height="1"/><rect x="22" y="17" width="3" height="1"/><rect x="31" y="17" width="1" height="1"/><rect x="33" y="17" width="1" height="1"/><rect x="35" y="17" width="1" height="1"/><rect x="1" y="18" width="3" height="1"/><rect x="6" y="18" width="2" height="1"/><rect x="10" y="18" width="2" height="1"/><rect x="13" y="18" width="3" height="1"/><rect x="19" y="18" width="3" height="1"/><rect x="24" y="18" width="3" height="1"/><rect x="28" y="18" width="2" height="1"/><rect x="32" y="18" width="4" height="1"/><rect x="0" y="19" width="1" height="1"/><rect x="4" y="19" width="1" height="1"/><rect x="8" y="19" width="2" height="1"/><rect x="11" y="19" width="1" height="1"/><rect x="13" y="19" width="4" height="1"/><rect x="19" y="19" width="3" height="1"/><rect x="23" y="19" width="4" height="1"/><rect x="32" y="19" width="2" height="1"/><rect x="36" y="19" width="1" height="1"/><rect x="1" y="20" width="7" height="1"/><rect x="9" y="20" width="1" height="1"/><rect x="11" y="20" width="2" height="1"/><rect x="15" y="20" width="4" height="1"/><rect x="20" y="20" width="2" height="1"/><rect x="23" y="20" width="2" height="1"/><rect x="27" y="20" width="3" height="1"/><rect x="31" y="20" width="1" height="1"/><rect x="34" y="20" width="2" height="1"/><rect x="1" y="21" width="1" height="1"/><rect x="3" y="21" width="3" height="1"/><rect x="10" y="21" width="3" height="1"/><rect x="15" y="21" width="4" height="1"/><rect x="20" y="21" width="1" height="1"/><rect x="26" y="21" width="3" height="1"/><rect x="30" y="21" width="2" height="1"/><rect x="33" y="21" width="3" height="1"/><rect x="0" y="22" width="1" height="1"/><rect x="4" y="22" width="4" height="1"/><rect x="9" y="22" width="3" height="1"/><rect x="17" y="22" width="1" height="1"/><rect x="19" y="22" width="1" height="1"/><rect x="21" y="22" width="1" height="1"/><rect x="23" y="22" width="4" height="1"/><rect x="29" y="22" width="2" height="1"/><rect x="33" y="22" width="1" height="1"/><rect x="0" y="23" width="2" height="1"/><rect x="5" y="23" width="1" height="1"/><rect x="7" y="23" width="2" height="1"/><rect x="12" y="23" width="1" height="1"/><rect x="14" y="23" width="2" height="1"/><rect x="18" y="23" width="1" height="1"/><rect x="21" y="23" width="5" height="1"/><rect x="28" y="23" width="3" height="1"/><rect x="32" y="23" width="3" height="1"/><rect x="0" y="24" width="3" height="1"/><rect x="5" y="24" width="2" height="1"/><rect x="8" y="24" width="3" height="1"/><rect x="12" y="24" width="1" height="1"/><rect x="14" y="24" width="2" height="1"/><rect x="18" y="24" width="2" height="1"/><rect x="21" y="24" width="2" height="1"/><rect x="24" y="24" width="1" height="1"/><rect x="26" y="24" width="1" height="1"/><rect x="28" y="24" width="3" height="1"/><rect x="34" y="24" width="1" height="1"/><rect x="36" y="24" width="1" height="1"/><rect x="1" y="25" width="2" height="1"/><rect x="5" y="25" width="1" height="1"/><rect x="9" y="25" width="2" height="1"/><rect x="13" y="25" width="2" height="1"/><rect x="16" y="25" width="1" height="1"/><rect x="20" y="25" width="1" height="1"/><rect x="22" y="25" width="2" height="1"/><rect x="26" y="25" width="3" height="1"/><rect x="30" y="25" width="3" height="1"/><rect x="35" y="25" width="1" height="1"/><rect x="1" y="26" width="1" height="1"/><rect x="3" y="26" width="1" height="1"/><rect x="6" y="26" width="3" height="1"/><rect x="10" y="26" width="1" height="1"/><rect x="12" y="26" width="3" height="1"/><rect x="16" y="26" width="2" height="1"/><rect x="20" y="26" width="12" height="1"/><rect x="35" y="26" width="1" height="1"/><rect x="0" y="27" width="1" height="1"/><rect x="2" y="27" width="1" height="1"/><rect x="7" y="27" width="1" height="1"/><rect x="9" y="27" width="1" height="1"/><rect x="12" y="27" width="1" height="1"/><rect x="15" y="27" width="2" height="1"/><rect x="18" y="27" width="1" height="1"/><rect x="20" y="27" width="1" height="1"/><rect x="22" y="27" width="1" height="1"/><rect x="25" y="27" width="2" height="1"/><rect x="30" y="27" width="2" height="1"/><rect x="35" y="27" width="1" height="1"/><rect x="0" y="28" width="1" height="1"/><rect x="3" y="28" width="1" height="1"/><rect x="6" y="28" width="1" height="1"/><rect x="8" y="28" width="1" height="1"/><rect x="11" y="28" width="1" height="1"/><rect x="13" y="28" width="1" height="1"/><rect x="16" y="28" width="1" height="1"/><rect x="18" y="28" width="2" height="1"/><rect x="21" y="28" width="1" height="1"/><rect x="23" y="28" width="1" height="1"/><rect x="26" y="28" width="1" height="1"/><rect x="28" y="28" width="1" height="1"/><rect x="30" y="28" width="2" height="1"/><rect x="33" y="28" width="1" height="1"/><rect x="36" y="28" width="1" height="1"/><rect x="10" y="29" width="1" height="1"/><rect x="12" y="29" width="2" height="1"/><rect x="15" y="29" width="3" height="1"/><rect x="21" y="29" width="3" height="1"/><rect x="26" y="29" width="1" height="1"/><rect x="30" y="29" width="2" height="1"/><rect x="33" y="29" width="1" height="1"/><rect x="35" y="29" width="2" height="1"/><rect x="0" y="30" width="7" height="1"/><rect x="11" y="30" width="4" height="1"/><rect x="18" y="30" width="1" height="1"/><rect x="21" y="30" width="1" height="1"/><rect x="23" y="30" width="8" height="1"/><rect x="33" y="30" width="1" height="1"/><rect x="35" y="30" width="1" height="1"/><rect x="0" y="31" width="1" height="1"/><rect x="6" y="31" width="1" height="1"/><rect x="8" y="31" width="1" height="1"/><rect x="12" y="31" width="1" height="1"/><rect x="14" y="31" width="2" height="1"/><rect x="21" y="31" width="1" height="1"/><rect x="25" y="31" width="1" height="1"/><rect x="28" y="31" width="2" height="1"/><rect x="31" y="31" width="1" height="1"/><rect x="33" y="31" width="3" height="1"/><rect x="0" y="32" width="1" height="1"/><rect x="2" y="32" width="3" height="1"/><rect x="6" y="32" width="1" height="1"/><rect x="8" y="32" width="1" height="1"/><rect x="10" y="32" width="1" height="1"/><rect x="14" y="32" width="1" height="1"/><rect x="18" y="32" width="4" height="1"/><rect x="27" y="32" width="3" height="1"/><rect x="31" y="32" width="6" height="1"/><rect x="0" y="33" width="1" height="1"/><rect x="2" y="33" width="3" height="1"/><rect x="6" y="33" width="1" height="1"/><rect x="8" y="33" width="2" height="1"/><rect x="11" y="33" width="1" height="1"/><rect x="14" y="33" width="1" height="1"/><rect x="16" y="33" width="1" height="1"/><rect x="18" y="33" width="3" height="1"/><rect x="23" y="33" width="3" height="1"/><rect x="27" y="33" width="3" height="1"/><rect x="31" y="33" width="1" height="1"/><rect x="33" y="33" width="2" height="1"/><rect x="36" y="33" width="1" height="1"/><rect x="0" y="34" width="1" height="1"/><rect x="2" y="34" width="3" height="1"/><rect x="6" y="34" width="1" height="1"/><rect x="8" y="34" width="2" height="1"/><rect x="11" y="34" width="1" height="1"/><rect x="13" y="34" width="3" height="1"/><rect x="18" y="34" width="1" height="1"/><rect x="20" y="34" width="2" height="1"/><rect x="26" y="34" width="3" height="1"/><rect x="32" y="34" width="2" height="1"/><rect x="36" y="34" width="1" height="1"/><rect x="0" y="35" width="1" height="1"/><rect x="6" y="35" width="1" height="1"/><rect x="8" y="35" width="3" height="1"/><rect x="12" y="35" width="3" height="1"/><rect x="17" y="35" width="1" height="1"/><rect x="19" y="35" width="2" height="1"/><rect x="24" y="35" width="2" height="1"/><rect x="27" y="35" width="5" height="1"/><rect x="36" y="35" width="1" height="1"/><rect x="0" y="36" width="7" height="1"/><rect x="8" y="36" width="2" height="1"/><rect x="17" y="36" width="2" height="1"/><rect x="20" y="36" width="2" height="1"/><rect x="25" y="36" width="3" height="1"/><rect x="29" y="36" width="1" height="1"/><rect x="32" y="36" width="1" height="1"/><rect x="35" y="36" width="2" height="1"/></g></svg>
<div style="position:absolute;left:1099.5px;top:3168.5px;width:83px;height:83px;background:#f2f2f2;border:1px solid #d0d0d0;border-radius:9px;box-shadow:0 0 0 4px #fff, 0 3px 3px 4px rgba(0,0,0,0.18)"></div>
<svg style="position:absolute;left:1103px;top:3177px" width="55" height="63" viewBox="0 0 1301 1478"><g fill="none" stroke="#222" stroke-width="55" stroke-linecap="round"><path d="M745,820 V215 L885,135 M765,338 L885,262" stroke-linecap="butt"/><rect x="935" y="128" width="180" height="125"/><path d="M940,295 V830 A218,200 0 0 1 505,822"/><path d="M1112,295 V830 A395,320 0 0 1 325,830 L140,935 A620,600 0 0 0 730,1350" stroke-linecap="butt"/></g></svg><div style="position:absolute;left:1159px;top:3180px;width:5px;height:58px;background:repeating-linear-gradient(#888 0 5px, transparent 5px 11px);opacity:0.8"></div>
<svg style="position:absolute;left:1347.4px;top:3034.5px" width="348.6" height="348.6" viewBox="0 0 37 37" shape-rendering="crispEdges"><g fill="#0d0d0d"><rect x="0" y="0" width="7" height="1"/><rect x="10" y="0" width="3" height="1"/><rect x="15" y="0" width="1" height="1"/><rect x="20" y="0" width="2" height="1"/><rect x="23" y="0" width="6" height="1"/><rect x="30" y="0" width="7" height="1"/><rect x="0" y="1" width="1" height="1"/><rect x="6" y="1" width="1" height="1"/><rect x="8" y="1" width="1" height="1"/><rect x="10" y="1" width="1" height="1"/><rect x="13" y="1" width="2" height="1"/><rect x="16" y="1" width="1" height="1"/><rect x="18" y="1" width="2" height="1"/><rect x="22" y="1" width="3" height="1"/><rect x="27" y="1" width="2" height="1"/><rect x="30" y="1" width="1" height="1"/><rect x="36" y="1" width="1" height="1"/><rect x="0" y="2" width="1" height="1"/><rect x="2" y="2" width="3" height="1"/><rect x="6" y="2" width="1" height="1"/><rect x="8" y="2" width="1" height="1"/><rect x="10" y="2" width="2" height="1"/><rect x="14" y="2" width="1" height="1"/><rect x="16" y="2" width="2" height="1"/><rect x="19" y="2" width="4" height="1"/><rect x="24" y="2" width="1" height="1"/><rect x="26" y="2" width="2" height="1"/><rect x="30" y="2" width="1" height="1"/><rect x="32" y="2" width="3" height="1"/><rect x="36" y="2" width="1" height="1"/><rect x="0" y="3" width="1" height="1"/><rect x="2" y="3" width="3" height="1"/><rect x="6" y="3" width="1" height="1"/><rect x="8" y="3" width="2" height="1"/><rect x="11" y="3" width="1" height="1"/><rect x="13" y="3" width="1" height="1"/><rect x="16" y="3" width="2" height="1"/><rect x="19" y="3" width="2" height="1"/><rect x="24" y="3" width="1" height="1"/><rect x="26" y="3" width="3" height="1"/><rect x="30" y="3" width="1" height="1"/><rect x="32" y="3" width="3" height="1"/><rect x="36" y="3" width="1" height="1"/><rect x="0" y="4" width="1" height="1"/><rect x="2" y="4" width="3" height="1"/><rect x="6" y="4" width="1" height="1"/><rect x="10" y="4" width="1" height="1"/><rect x="12" y="4" width="1" height="1"/><rect x="14" y="4" width="1" height="1"/><rect x="16" y="4" width="1" height="1"/><rect x="24" y="4" width="1" height="1"/><rect x="28" y="4" width="1" height="1"/><rect x="30" y="4" width="1" height="1"/><rect x="32" y="4" width="3" height="1"/><rect x="36" y="4" width="1" height="1"/><rect x="0" y="5" width="1" height="1"/><rect x="6" y="5" width="1" height="1"/><rect x="9" y="5" width="1" height="1"/><rect x="11" y="5" width="1" height="1"/><rect x="13" y="5" width="2" height="1"/><rect x="16" y="5" width="1" height="1"/><rect x="19" y="5" width="3" height="1"/><rect x="23" y="5" width="2" height="1"/><rect x="27" y="5" width="1" height="1"/><rect x="30" y="5" width="1" height="1"/><rect x="36" y="5" width="1" height="1"/><rect x="0" y="6" width="7" height="1"/><rect x="8" y="6" width="1" height="1"/><rect x="10" y="6" width="1" height="1"/><rect x="12" y="6" width="1" height="1"/><rect x="14" y="6" width="1" height="1"/><rect x="16" y="6" width="1" height="1"/><rect x="18" y="6" width="1" height="1"/><rect x="20" y="6" width="1" height="1"/><rect x="22" y="6" width="1" height="1"/><rect x="24" y="6" width="1" height="1"/><rect x="26" y="6" width="1" height="1"/><rect x="28" y="6" width="1" height="1"/><rect x="30" y="6" width="7" height="1"/><rect x="8" y="7" width="3" height="1"/><rect x="12" y="7" width="3" height="1"/><rect x="19" y="7" width="1" height="1"/><rect x="22" y="7" width="1" height="1"/><rect x="25" y="7" width="2" height="1"/><rect x="4" y="8" width="1" height="1"/><rect x="6" y="8" width="1" height="1"/><rect x="10" y="8" width="1" height="1"/><rect x="13" y="8" width="3" height="1"/><rect x="18" y="8" width="2" height="1"/><rect x="21" y="8" width="1" height="1"/><rect x="23" y="8" width="2" height="1"/><rect x="26" y="8" width="2" height="1"/><rect x="33" y="8" width="1" height="1"/><rect x="35" y="8" width="2" height="1"/><rect x="1" y="9" width="1" height="1"/><rect x="7" y="9" width="2" height="1"/><rect x="11" y="9" width="1" height="1"/><rect x="16" y="9" width="1" height="1"/><rect x="20" y="9" width="1" height="1"/><rect x="23" y="9" width="1" height="1"/><rect x="26" y="9" width="1" height="1"/><rect x="28" y="9" width="1" height="1"/><rect x="30" y="9" width="1" height="1"/><rect x="33" y="9" width="4" height="1"/><rect x="2" y="10" width="3" height="1"/><rect x="6" y="10" width="2" height="1"/><rect x="9" y="10" width="3" height="1"/><rect x="13" y="10" width="2" height="1"/><rect x="16" y="10" width="1" height="1"/><rect x="18" y="10" width="1" height="1"/><rect x="20" y="10" width="2" height="1"/><rect x="23" y="10" width="3" height="1"/><rect x="27" y="10" width="2" height="1"/><rect x="35" y="10" width="1" height="1"/><rect x="2" y="11" width="2" height="1"/><rect x="5" y="11" width="1" height="1"/><rect x="8" y="11" width="2" height="1"/><rect x="11" y="11" width="2" height="1"/><rect x="14" y="11" width="1" height="1"/><rect x="16" y="11" width="2" height="1"/><rect x="19" y="11" width="2" height="1"/><rect x="24" y="11" width="1" height="1"/><rect x="29" y="11" width="4" height="1"/><rect x="36" y="11" width="1" height="1"/><rect x="0" y="12" width="2" height="1"/><rect x="5" y="12" width="2" height="1"/><rect x="8" y="12" width="1" height="1"/><rect x="10" y="12" width="2" height="1"/><rect x="13" y="12" width="1" height="1"/><rect x="15" y="12" width="1" height="1"/><rect x="18" y="12" width="2" height="1"/><rect x="21" y="12" width="3" height="1"/><rect x="25" y="12" width="1" height="1"/><rect x="31" y="12" width="1" height="1"/><rect x="36" y="12" width="1" height="1"/><rect x="4" y="13" width="1" height="1"/><rect x="10" y="13" width="1" height="1"/><rect x="12" y="13" width="5" height="1"/><rect x="19" y="13" width="1" height="1"/><rect x="22" y="13" width="1" height="1"/><rect x="26" y="13" width="1" height="1"/><rect x="32" y="13" width="1" height="1"/><rect x="35" y="13" width="2" height="1"/><rect x="0" y="14" width="5" height="1"/><rect x="6" y="14" width="1" height="1"/><rect x="13" y="14" width="1" height="1"/><rect x="16" y="14" width="1" height="1"/><rect x="18" y="14" width="4" height="1"/><rect x="23" y="14" width="1" height="1"/><rect x="25" y="14" width="1" height="1"/><rect x="28" y="14" width="2" height="1"/><rect x="32" y="14" width="1" height="1"/><rect x="34" y="14" width="3" height="1"/><rect x="0" y="15" width="2" height="1"/><rect x="3" y="15" width="1" height="1"/><rect x="9" y="15" width="1" height="1"/><rect x="11" y="15" width="2" height="1"/><rect x="14" y="15" width="1" height="1"/><rect x="18" y="15" width="1" height="1"/><rect x="22" y="15" width="1" height="1"/><rect x="24" y="15" width="3" height="1"/><rect x="28" y="15" width="2" height="1"/><rect x="31" y="15" width="2" height="1"/><rect x="34" y="15" width="1" height="1"/><rect x="3" y="16" width="2" height="1"/><rect x="6" y="16" width="1" height="1"/><rect x="8" y="16" width="2" height="1"/><rect x="15" y="16" width="2" height="1"/><rect x="20" y="16" width="4" height="1"/><rect x="25" y="16" width="1" height="1"/><rect x="27" y="16" width="2" height="1"/><rect x="32" y="16" width="4" height="1"/><rect x="1" y="17" width="2" height="1"/><rect x="7" y="17" width="2" height="1"/><rect x="10" y="17" width="1" height="1"/><rect x="13" y="17" width="1" height="1"/><rect x="17" y="17" width="3" height="1"/><rect x="21" y="17" width="2" height="1"/><rect x="24" y="17" width="1" height="1"/><rect x="26" y="17" width="1" height="1"/><rect x="28" y="17" width="2" height="1"/><rect x="31" y="17" width="2" height="1"/><rect x="35" y="17" width="2" height="1"/><rect x="0" y="18" width="1" height="1"/><rect x="2" y="18" width="2" height="1"/><rect x="6" y="18" width="1" height="1"/><rect x="9" y="18" width="1" height="1"/><rect x="11" y="18" width="3" height="1"/><rect x="16" y="18" width="7" height="1"/><rect x="28" y="18" width="1" height="1"/><rect x="31" y="18" width="2" height="1"/><rect x="2" y="19" width="1" height="1"/><rect x="5" y="19" width="1" height="1"/><rect x="9" y="19" width="1" height="1"/><rect x="11" y="19" width="1" height="1"/><rect x="14" y="19" width="2" height="1"/><rect x="19" y="19" width="2" height="1"/><rect x="23" y="19" width="1" height="1"/><rect x="28" y="19" width="1" height="1"/><rect x="3" y="20" width="4" height="1"/><rect x="8" y="20" width="5" height="1"/><rect x="14" y="20" width="3" height="1"/><rect x="19" y="20" width="3" height="1"/><rect x="24" y="20" width="5" height="1"/><rect x="31" y="20" width="4" height="1"/><rect x="36" y="20" width="1" height="1"/><rect x="2" y="21" width="2" height="1"/><rect x="9" y="21" width="3" height="1"/><rect x="14" y="21" width="1" height="1"/><rect x="17" y="21" width="1" height="1"/><rect x="20" y="21" width="4" height="1"/><rect x="27" y="21" width="4" height="1"/><rect x="35" y="21" width="1" height="1"/><rect x="0" y="22" width="1" height="1"/><rect x="2" y="22" width="1" height="1"/><rect x="6" y="22" width="2" height="1"/><rect x="9" y="22" width="3" height="1"/><rect x="15" y="22" width="1" height="1"/><rect x="17" y="22" width="1" height="1"/><rect x="19" y="22" width="1" height="1"/><rect x="21" y="22" width="1" height="1"/><rect x="24" y="22" width="1" height="1"/><rect x="26" y="22" width="5" height="1"/><rect x="32" y="22" width="1" height="1"/><rect x="34" y="22" width="3" height="1"/><rect x="3" y="23" width="2" height="1"/><rect x="8" y="23" width="2" height="1"/><rect x="12" y="23" width="1" height="1"/><rect x="14" y="23" width="2" height="1"/><rect x="17" y="23" width="3" height="1"/><rect x="21" y="23" width="2" height="1"/><rect x="24" y="23" width="1" height="1"/><rect x="28" y="23" width="1" height="1"/><rect x="30" y="23" width="3" height="1"/><rect x="35" y="23" width="2" height="1"/><rect x="2" y="24" width="6" height="1"/><rect x="9" y="24" width="1" height="1"/><rect x="14" y="24" width="5" height="1"/><rect x="24" y="24" width="3" height="1"/><rect x="28" y="24" width="2" height="1"/><rect x="34" y="24" width="1" height="1"/><rect x="1" y="25" width="1" height="1"/><rect x="3" y="25" width="1" height="1"/><rect x="9" y="25" width="1" height="1"/><rect x="12" y="25" width="3" height="1"/><rect x="17" y="25" width="1" height="1"/><rect x="19" y="25" width="3" height="1"/><rect x="23" y="25" width="1" height="1"/><rect x="28" y="25" width="1" height="1"/><rect x="33" y="25" width="1" height="1"/><rect x="35" y="25" width="1" height="1"/><rect x="0" y="26" width="1" height="1"/><rect x="3" y="26" width="1" height="1"/><rect x="5" y="26" width="3" height="1"/><rect x="11" y="26" width="1" height="1"/><rect x="14" y="26" width="1" height="1"/><rect x="17" y="26" width="5" height="1"/><rect x="23" y="26" width="1" height="1"/><rect x="25" y="26" width="7" height="1"/><rect x="34" y="26" width="2" height="1"/><rect x="3" y="27" width="1" height="1"/><rect x="7" y="27" width="2" height="1"/><rect x="13" y="27" width="1" height="1"/><rect x="15" y="27" width="2" height="1"/><rect x="22" y="27" width="1" height="1"/><rect x="24" y="27" width="3" height="1"/><rect x="30" y="27" width="1" height="1"/><rect x="32" y="27" width="5" height="1"/><rect x="4" y="28" width="1" height="1"/><rect x="6" y="28" width="1" height="1"/><rect x="10" y="28" width="1" height="1"/><rect x="12" y="28" width="1" height="1"/><rect x="15" y="28" width="5" height="1"/><rect x="22" y="28" width="2" height="1"/><rect x="25" y="28" width="2" height="1"/><rect x="28" y="28" width="1" height="1"/><rect x="30" y="28" width="1" height="1"/><rect x="32" y="28" width="3" height="1"/><rect x="9" y="29" width="1" height="1"/><rect x="11" y="29" width="2" height="1"/><rect x="14" y="29" width="1" height="1"/><rect x="18" y="29" width="1" height="1"/><rect x="21" y="29" width="4" height="1"/><rect x="26" y="29" width="1" height="1"/><rect x="30" y="29" width="2" height="1"/><rect x="35" y="29" width="2" height="1"/><rect x="0" y="30" width="7" height="1"/><rect x="9" y="30" width="1" height="1"/><rect x="11" y="30" width="2" height="1"/><rect x="14" y="30" width="2" height="1"/><rect x="17" y="30" width="2" height="1"/><rect x="20" y="30" width="1" height="1"/><rect x="23" y="30" width="2" height="1"/><rect x="26" y="30" width="5" height="1"/><rect x="32" y="30" width="1" height="1"/><rect x="0" y="31" width="1" height="1"/><rect x="6" y="31" width="1" height="1"/><rect x="8" y="31" width="2" height="1"/><rect x="13" y="31" width="3" height="1"/><rect x="17" y="31" width="2" height="1"/><rect x="23" y="31" width="7" height="1"/><rect x="31" y="31" width="1" height="1"/><rect x="36" y="31" width="1" height="1"/><rect x="0" y="32" width="1" height="1"/><rect x="2" y="32" width="3" height="1"/><rect x="6" y="32" width="1" height="1"/><rect x="8" y="32" width="1" height="1"/><rect x="10" y="32" width="3" height="1"/><rect x="16" y="32" width="4" height="1"/><rect x="21" y="32" width="2" height="1"/><rect x="25" y="32" width="2" height="1"/><rect x="28" y="32" width="2" height="1"/><rect x="31" y="32" width="6" height="1"/><rect x="0" y="33" width="1" height="1"/><rect x="2" y="33" width="3" height="1"/><rect x="6" y="33" width="1" height="1"/><rect x="9" y="33" width="2" height="1"/><rect x="13" y="33" width="2" height="1"/><rect x="16" y="33" width="2" height="1"/><rect x="22" y="33" width="2" height="1"/><rect x="25" y="33" width="1" height="1"/><rect x="27" y="33" width="3" height="1"/><rect x="31" y="33" width="6" height="1"/><rect x="0" y="34" width="1" height="1"/><rect x="2" y="34" width="3" height="1"/><rect x="6" y="34" width="1" height="1"/><rect x="8" y="34" width="5" height="1"/><rect x="15" y="34" width="3" height="1"/><rect x="19" y="34" width="1" height="1"/><rect x="23" y="34" width="4" height="1"/><rect x="28" y="34" width="1" height="1"/><rect x="31" y="34" width="5" height="1"/><rect x="0" y="35" width="1" height="1"/><rect x="6" y="35" width="1" height="1"/><rect x="9" y="35" width="3" height="1"/><rect x="13" y="35" width="2" height="1"/><rect x="16" y="35" width="6" height="1"/><rect x="26" y="35" width="1" height="1"/><rect x="29" y="35" width="1" height="1"/><rect x="34" y="35" width="1" height="1"/><rect x="36" y="35" width="1" height="1"/><rect x="0" y="36" width="7" height="1"/><rect x="8" y="36" width="3" height="1"/><rect x="12" y="36" width="5" height="1"/><rect x="21" y="36" width="7" height="1"/><rect x="29" y="36" width="5" height="1"/><rect x="36" y="36" width="1" height="1"/></g></svg>
<div style="position:absolute;left:1479.5px;top:3167.0px;width:84px;height:84px;background:#f2f2f2;border:1px solid #d0d0d0;border-radius:9px;box-shadow:0 0 0 4px #fff, 0 3px 3px 4px rgba(0,0,0,0.18)"></div>
<svg style="position:absolute;left:1488px;top:3175px" width="72" height="69" viewBox="0 0 1301 1251"><g fill="none" stroke="#222" stroke-width="30"><path d="M130,1150 L495,130 L760,950 L615,950 L490,505 L265,1150 Z"/><path d="M550,145 L870,145 C1060,145 1170,400 1170,640 C1170,900 1040,1150 830,1150 L325,1150 L380,1005 L830,1000 C960,1000 1030,820 1030,640 C1030,450 950,300 830,300 L600,300 Z"/></g></svg>
<div class="t" style="left:1020.3px;top:3412.8px;font-size:46.0px;line-height:46.0px;color:#111;font-weight:normal;font-family:'Liberation Serif', serif;-webkit-text-stroke:0.90px #111;"><i style="width:48.60px">简</i><i style="width:48.60px">意</i><i style="width:48.60px">公</i><i style="width:48.60px">众</i><i style="width:48.60px">号</i></div>
<div class="t" style="left:1400.6px;top:3410.5px;font-size:46.0px;line-height:46.0px;color:#111;font-weight:normal;font-family:'Liberation Serif', serif;-webkit-text-stroke:0.90px #111;"><i style="width:48.60px">厨</i><i style="width:48.60px">意</i><i style="width:48.60px">公</i><i style="width:48.60px">众</i><i style="width:48.60px">号</i></div>
<svg style="position:absolute;left:60px;top:45px" width="110" height="125" viewBox="0 0 1301 1478">
<g fill="none" stroke="#111" stroke-width="50" stroke-linecap="round">
<path d="M745,820 V215 L885,135 M765,338 L885,262" stroke-linecap="butt"/>
<rect x="935" y="128" width="180" height="125" stroke-linecap="butt"/>
<path d="M940,300 V830 A218,200 0 0 1 505,822" stroke-linecap="butt"/><circle cx="505" cy="822" r="25" fill="#111" stroke="none"/>
<path d="M1112,300 V830 A395,320 0 0 1 325,830 L140,935 A620,600 0 0 0 730,1350" stroke-linecap="butt"/>
</g></svg>
<div style="position:absolute;left:525px;top:59px;width:5px;height:96px;background:#111"></div>
<svg style="position:absolute;left:550px;top:45px" width="130" height="125" viewBox="0 0 1301 1251">
<g fill="none" stroke="#111" stroke-width="24" stroke-linejoin="miter">
<path d="M130,1150 L495,130 L760,950 L615,950 L490,505 L265,1150 Z"/>
<path d="M550,145 L870,145 C1060,145 1170,400 1170,640 C1170,900 1040,1150 830,1150 L325,1150 L380,1005 L830,1000 C960,1000 1030,820 1030,640 C1030,450 950,300 830,300 L600,300 Z"/>
</g></svg>
<div class="t" style="left:176.3px;top:56.9px;font-size:55.0px;line-height:55.0px;color:#111;font-weight:normal;font-family:'Liberation Sans', sans-serif;-webkit-text-stroke:0.6px #111;"><i style="width:83.20px">简</i><i style="width:83.20px">意</i><i style="width:83.20px">顾</i><i style="width:83.20px">问</i></div>
<div class="t" style="left:690.4px;top:57.9px;font-size:55.0px;line-height:55.0px;color:#111;font-weight:normal;font-family:'Liberation Sans', sans-serif;-webkit-text-stroke:0.6px #111;"><i style="width:83.20px">厨</i><i style="width:83.20px">意</i><i style="width:83.20px">设</i><i style="width:83.20px">计</i></div>
<div class="t" style="left:176px;top:125px;font-size:36px;line-height:36px;font-family:'Liberation Sans', sans-serif;color:#111;letter-spacing:-0.5px;-webkit-text-stroke:0.7px #111;transform:scaleX(0.902);transform-origin:0 0">PURE CONSULTANT</div>
<div class="t" style="left:690px;top:125px;font-size:36px;line-height:36px;font-family:'Liberation Sans', sans-serif;color:#111;-webkit-text-stroke:0.7px #111;transform:scaleX(0.88);transform-origin:0 0">ARTISTIC</div>
<div class="t" style="left:862px;top:125px;font-size:36px;line-height:36px;font-family:'Liberation Sans', sans-serif;color:#111;-webkit-text-stroke:0.7px #111;transform:scaleX(0.88);transform-origin:0 0">DESIGN</div>
<div style="position:absolute;left:69.0px;top:189.5px;width:927.0px;height:3.0px;background:#111"></div>
<div class="t" style="left:1057.8px;top:61.0px;font-size:40.0px;line-height:40.0px;color:#111;font-weight:normal;font-family:'Liberation Serif', serif;-webkit-text-stroke:0.90px #111;"><i style="width:43.30px">深</i><i style="width:43.30px">圳</i><i style="width:43.30px">市</i><i style="width:43.30px">简</i><i style="width:43.30px">意</i><i style="width:43.30px">设</i><i style="width:43.30px">计</i><i style="width:43.30px">顾</i><i style="width:43.30px">问</i><i style="width:43.30px">有</i><i style="width:43.30px">限</i><i style="width:43.30px">公</i><i style="width:43.30px">司</i></div>
<div class="t" style="left:1059px;top:123px;font-size:35.8px;line-height:35.8px;font-family:'Liberation Mono', monospace;color:#111;-webkit-text-stroke:0.8px #111;transform:scaleX(0.79);transform-origin:0 0">SHENZHEN PURE DESIGN CONSULTANT CO.LTD.</div>
<div class="t" style="left:1057.8px;top:218.0px;font-size:40.0px;line-height:40.0px;color:#111;font-weight:normal;font-family:'Liberation Serif', serif;-webkit-text-stroke:0.90px #111;"><i style="width:42.95px">深</i><i style="width:42.95px">圳</i><i style="width:42.95px">市</i><i style="width:42.95px">厨</i><i style="width:42.95px">意</i><i style="width:42.95px">餐</i><i style="width:42.95px">饮</i><i style="width:42.95px">设</i><i style="width:42.95px">计</i><i style="width:42.95px">有</i><i style="width:42.95px">限</i><i style="width:42.95px">公</i><i style="width:42.95px">司</i></div>
<div class="t" style="left:1059px;top:276.5px;font-size:35.8px;line-height:35.8px;font-family:'Liberation Mono', monospace;color:#111;-webkit-text-stroke:0.8px #111;transform:scaleX(0.79);transform-origin:0 0">SHENZHEN CHUYI CATERING DESIGN CO.LTD.</div>
<div class="t" style="left:216.8px;top:256.8px;font-size:55.1px;line-height:55.1px;color:#111;font-weight:normal;font-family:'Liberation Serif', serif;-webkit-text-stroke:1.30px #111;"><i style="width:55.50px">全</i><i style="width:55.50px">域</i><i style="width:55.50px">餐</i><i style="width:55.50px">饮</i><i style="width:55.50px">价</i><i style="width:55.50px">值</i><i style="width:55.50px">链</i><i style="width:55.50px">创</i><i style="width:55.50px">意</i><i style="width:55.50px">体</i></div>
<div class="t" style="left:76.3px;top:394.4px;font-size:42.0px;line-height:42.0px;color:#111;font-weight:normal;font-family:'Liberation Serif', serif;-webkit-text-stroke:0.60px #111;">“</div>
<div class="t" style="left:96.6px;top:395.5px;font-size:37.0px;line-height:37.0px;font-family:'Liberation Serif', serif;font-weight:normal;-webkit-text-stroke:0.6px #111;color:#111;transform:scaleX(0.707);transform-origin:0 0;">J&amp;D</div>
<div style="position:absolute;left:165px;top:413.4px;width:15px;height:2.5px;background:#111"></div>
<div class="t" style="left:199.7px;top:399.4px;font-size:31.5px;line-height:31.5px;color:#111;font-weight:normal;font-family:'Liberation Serif', serif;-webkit-text-stroke:0.60px #111;"><i style="width:34.30px">简</i><i style="width:34.30px">意</i><i style="width:34.30px">顾</i><i style="width:34.30px">问</i></div>
<div class="t" style="left:337.7px;top:394.4px;font-size:42.0px;line-height:42.0px;color:#111;font-weight:normal;font-family:'Liberation Serif', serif;-webkit-text-stroke:0.60px #111;">”</div>
<div class="t" style="left:384.6px;top:399.4px;font-size:31.5px;line-height:31.5px;color:#111;font-weight:normal;font-family:'Liberation Serif', serif;-webkit-text-stroke:0.60px #111;"><i style="width:33.93px">是</i><i style="width:33.93px">业</i><i style="width:33.93px">界</i><i style="width:33.93px">独</i><i style="width:33.93px">特</i><i style="width:33.93px">的</i><i style="width:33.93px">创</i><i style="width:33.93px">新</i><i style="width:33.93px">顾</i><i style="width:33.93px">问</i><i style="width:33.93px">设</i><i style="width:33.93px">计</i><i style="width:33.93px">机</i><i style="width:33.93px">构</i><i style="width:33.93px">，</i><i style="width:33.93px">致</i><i style="width:33.93px">力</i><i style="width:33.93px">于</i><i style="width:33.93px">餐</i><i style="width:33.93px">饮</i><i style="width:33.93px">、</i><i style="width:33.93px">商</i><i style="width:33.93px">业</i><i style="width:33.93px">创</i><i style="width:33.93px">新</i><i style="width:33.93px">设</i><i style="width:33.93px">计</i><i style="width:33.93px">服</i><i style="width:33.93px">务</i></div>
<div class="t" style="left:76.3px;top:458.1px;font-size:42.0px;line-height:42.0px;color:#111;font-weight:normal;font-family:'Liberation Serif', serif;-webkit-text-stroke:0.60px #111;">“</div>
<div class="t" style="left:96.6px;top:459.1px;font-size:37.0px;line-height:37.0px;font-family:'Liberation Serif', serif;font-weight:normal;-webkit-text-stroke:0.6px #111;color:#111;transform:scaleX(0.707);transform-origin:0 0;">J&amp;D</div>
<div style="position:absolute;left:165px;top:477.0px;width:15px;height:2.5px;background:#111"></div>
<div class="t" style="left:199.7px;top:463.0px;font-size:31.5px;line-height:31.5px;color:#111;font-weight:normal;font-family:'Liberation Serif', serif;-webkit-text-stroke:0.60px #111;"><i style="width:34.30px">简</i><i style="width:34.30px">意</i><i style="width:34.30px">顾</i><i style="width:34.30px">问</i></div>
<div class="t" style="left:337.7px;top:458.1px;font-size:42.0px;line-height:42.0px;color:#111;font-weight:normal;font-family:'Liberation Serif', serif;-webkit-text-stroke:0.60px #111;">”</div>
<div class="t" style="left:384.6px;top:463.0px;font-size:31.5px;line-height:31.5px;color:#111;font-weight:normal;font-family:'Liberation Serif', serif;-webkit-text-stroke:0.60px #111;"><i style="width:33.60px">的</i><i style="width:33.60px">核</i><i style="width:33.60px">心</i><i style="width:33.60px">业</i><i style="width:33.60px">务</i><i style="width:33.60px">为</i><i style="width:33.60px">：</i></div>
<div class="t" style="left:620.9px;top:460.7px;font-size:37.5px;line-height:37.5px;color:#111;font-weight:bold;font-family:'Liberation Serif', serif;-webkit-text-stroke:0.7px #111;"><i style="width:40.05px">餐</i><i style="width:40.05px">饮</i><i style="width:40.05px">顾</i><i style="width:40.05px">问</i><i style="width:40.05px">、</i><i style="width:40.05px">商</i><i style="width:40.05px">业</i><i style="width:40.05px">设</i><i style="width:40.05px">计</i><i style="width:40.05px">、</i><i style="width:40.05px">餐</i><i style="width:40.05px">厅</i><i style="width:40.05px">设</i><i style="width:40.05px">计</i><i style="width:40.05px">、</i><i style="width:40.05px">厨</i><i style="width:40.05px">房</i><i style="width:40.05px">设</i><i style="width:40.05px">计</i></div>
<div class="t" style="left:76.3px;top:565.5px;font-size:42.0px;line-height:42.0px;color:#111;font-weight:normal;font-family:'Liberation Serif', serif;-webkit-text-stroke:0.60px #111;">“</div>
<div class="t" style="left:96.6px;top:566.6px;font-size:37.0px;line-height:37.0px;font-family:'Liberation Serif', serif;font-weight:normal;-webkit-text-stroke:0.6px #111;color:#111;transform:scaleX(0.707);transform-origin:0 0;">A&amp;D</div>
<div style="position:absolute;left:165px;top:584.5px;width:15px;height:2.5px;background:#111"></div>
<div class="t" style="left:199.7px;top:570.5px;font-size:31.5px;line-height:31.5px;color:#111;font-weight:normal;font-family:'Liberation Serif', serif;-webkit-text-stroke:0.60px #111;"><i style="width:34.30px">厨</i><i style="width:34.30px">意</i><i style="width:34.30px">设</i><i style="width:34.30px">计</i></div>
<div class="t" style="left:337.7px;top:565.5px;font-size:42.0px;line-height:42.0px;color:#111;font-weight:normal;font-family:'Liberation Serif', serif;-webkit-text-stroke:0.60px #111;">”</div>
<div class="t" style="left:386.1px;top:570.5px;font-size:31.5px;line-height:31.5px;color:#111;font-weight:normal;font-family:'Liberation Serif', serif;-webkit-text-stroke:0.60px #111;"><i style="width:33.40px">创</i><i style="width:33.40px">立</i><i style="width:33.40px">于</i></div>
<div class="t" style="left:485.0px;top:567.6px;font-size:37.0px;line-height:37.0px;font-family:'Liberation Serif', serif;font-weight:normal;-webkit-text-stroke:0.6px #111;color:#111;transform:scaleX(1.000);transform-origin:0 0;">2012</div>
<div class="t" style="left:560.1px;top:570.5px;font-size:31.5px;line-height:31.5px;color:#111;font-weight:normal;font-family:'Liberation Serif', serif;-webkit-text-stroke:0.60px #111;"><i style="width:33.40px">年</i><i style="width:33.40px">，</i></div>
<div class="t" style="left:624.6px;top:570.5px;font-size:31.5px;line-height:31.5px;color:#111;font-weight:normal;font-family:'Liberation Serif', serif;-webkit-text-stroke:0.60px #111;">是</div>
<div class="t" style="left:688.7px;top:565.5px;font-size:42.0px;line-height:42.0px;color:#111;font-weight:normal;font-family:'Liberation Serif', serif;-webkit-text-stroke:0.60px #111;">“</div>
<div class="t" style="left:707.3px;top:566.6px;font-size:37.0px;line-height:37.0px;font-family:'Liberation Serif', serif;font-weight:normal;-webkit-text-stroke:0.6px #111;color:#111;transform:scaleX(0.872);transform-origin:0 0;">J&amp;D-</div>
<div class="t" style="left:779.1px;top:570.5px;font-size:31.5px;line-height:31.5px;color:#111;font-weight:normal;font-family:'Liberation Serif', serif;-webkit-text-stroke:0.60px #111;"><i style="width:33.00px">简</i><i style="width:33.00px">意</i><i style="width:33.00px">顾</i><i style="width:33.00px">问</i></div>
<div class="t" style="left:913.5px;top:565.5px;font-size:42.0px;line-height:42.0px;color:#111;font-weight:normal;font-family:'Liberation Serif', serif;-webkit-text-stroke:0.60px #111;">”</div>
<div class="t" style="left:960.6px;top:570.5px;font-size:31.5px;line-height:31.5px;color:#111;font-weight:normal;font-family:'Liberation Serif', serif;-webkit-text-stroke:0.60px #111;"><i style="width:33.95px">旗</i><i style="width:33.95px">下</i><i style="width:33.95px">厨</i><i style="width:33.95px">房</i><i style="width:33.95px">设</i><i style="width:33.95px">计</i><i style="width:33.95px">独</i><i style="width:33.95px">立</i><i style="width:33.95px">品</i><i style="width:33.95px">牌</i><i style="width:33.95px">，</i><i style="width:33.95px">致</i><i style="width:33.95px">力</i><i style="width:33.95px">于</i><i style="width:33.95px">平</i><i style="width:33.95px">台</i><i style="width:33.95px">发</i><i style="width:33.95px">展</i></div>
<div class="t" style="left:76.3px;top:626.3px;font-size:42.0px;line-height:42.0px;color:#111;font-weight:normal;font-family:'Liberation Serif', serif;-webkit-text-stroke:0.60px #111;">“</div>
<div class="t" style="left:96.6px;top:627.4px;font-size:37.0px;line-height:37.0px;font-family:'Liberation Serif', serif;font-weight:normal;-webkit-text-stroke:0.6px #111;color:#111;transform:scaleX(0.707);transform-origin:0 0;">A&amp;D</div>
<div style="position:absolute;left:165px;top:645.3px;width:15px;height:2.5px;background:#111"></div>
<div class="t" style="left:199.7px;top:631.3px;font-size:31.5px;line-height:31.5px;color:#111;font-weight:normal;font-family:'Liberation Serif', serif;-webkit-text-stroke:0.60px #111;"><i style="width:34.30px">厨</i><i style="width:34.30px">意</i><i style="width:34.30px">设</i><i style="width:34.30px">计</i></div>
<div class="t" style="left:337.7px;top:626.3px;font-size:42.0px;line-height:42.0px;color:#111;font-weight:normal;font-family:'Liberation Serif', serif;-webkit-text-stroke:0.60px #111;">”</div>
<div class="t" style="left:384.6px;top:631.3px;font-size:31.5px;line-height:31.5px;color:#111;font-weight:normal;font-family:'Liberation Serif', serif;-webkit-text-stroke:0.60px #111;"><i style="width:33.60px">的</i><i style="width:33.60px">核</i><i style="width:33.60px">心</i><i style="width:33.60px">业</i><i style="width:33.60px">务</i><i style="width:33.60px">为</i><i style="width:33.60px">：</i></div>
<div class="t" style="left:620.9px;top:629.0px;font-size:37.5px;line-height:37.5px;color:#111;font-weight:bold;font-family:'Liberation Serif', serif;-webkit-text-stroke:0.7px #111;"><i style="width:40.05px">厨</i><i style="width:40.05px">房</i><i style="width:40.05px">设</i><i style="width:40.05px">计</i><i style="width:40.05px">、</i><i style="width:40.05px">机</i><i style="width:40.05px">电</i><i style="width:40.05px">设</i><i style="width:40.05px">计</i><i style="width:40.05px">、</i><i style="width:40.05px">后</i><i style="width:40.05px">勤</i><i style="width:40.05px">设</i><i style="width:40.05px">计</i><i style="width:40.05px">、</i><i style="width:40.05px">洗</i><i style="width:40.05px">衣</i><i style="width:40.05px">房</i><i style="width:40.05px">设</i><i style="width:40.05px">计</i></div>
<div style="position:absolute;left:0.0px;top:714.0px;width:1772.0px;height:3.0px;background:#1a1d1f"></div>
<div style="position:absolute;left:0.0px;top:1586.0px;width:1772.0px;height:2.3px;background:#1a1d1f"></div>
<div style="position:absolute;left:0.0px;top:1939.0px;width:1772.0px;height:3.0px;background:#1a1d1f"></div>
<div style="position:absolute;left:0.0px;top:2955.5px;width:1772.0px;height:2.5px;background:#0a0c0e"></div>
<svg style="position:absolute;left:0;top:0" width="1772" height="1600" viewBox="0 0 1772 1600"><circle cx="463.3" cy="1080.9" r="173.4" fill="none" stroke="#c4cfcf" stroke-width="4.2"/><circle cx="462.5" cy="865.4" r="39.3" fill="#b4e1f1"/><circle cx="609.7" cy="923.9" r="39.3" fill="#b4e1f1"/><circle cx="675.6" cy="1055.8" r="39.3" fill="#b4e1f1"/><circle cx="644.4" cy="1193.7" r="39.3" fill="#b4e1f1"/><circle cx="533.7" cy="1281.6" r="39.3" fill="#b4e1f1"/><circle cx="371.9" cy="1273.6" r="39.3" fill="#b4e1f1"/><circle cx="268.7" cy="1173.7" r="39.3" fill="#b4e1f1"/><circle cx="250.0" cy="1047.8" r="39.3" fill="#b4e1f1"/><circle cx="310.0" cy="929.9" r="39.3" fill="#b4e1f1"/><line x1="459.8" y1="1004.6" x2="463.4" y2="916.0" stroke="#4a84ee" stroke-width="1.7"/><polygon points="463.8,906.5 468.0,916.2 458.8,915.8" fill="#4a84ee"/><line x1="515.7" y1="1027.8" x2="578.6" y2="955.5" stroke="#4a84ee" stroke-width="1.7"/><polygon points="584.8,948.3 582.0,958.5 575.1,952.5" fill="#4a84ee"/><line x1="537.7" y1="1081.8" x2="628.3" y2="1066.6" stroke="#4a84ee" stroke-width="1.7"/><polygon points="637.7,1065.0 629.1,1071.1 627.6,1062.0" fill="#4a84ee"/><line x1="522.9" y1="1127.7" x2="591.7" y2="1171.4" stroke="#4a84ee" stroke-width="1.7"/><polygon points="599.7,1176.5 589.2,1175.3 594.1,1167.5" fill="#4a84ee"/><line x1="489.8" y1="1151.7" x2="518.6" y2="1236.6" stroke="#4a84ee" stroke-width="1.7"/><polygon points="521.7,1245.6 514.3,1238.1 523.0,1235.1" fill="#4a84ee"/><line x1="427.0" y1="1151.7" x2="393.7" y2="1225.0" stroke="#4a84ee" stroke-width="1.7"/><polygon points="389.8,1233.6 389.5,1223.0 397.9,1226.9" fill="#4a84ee"/><line x1="388.6" y1="1115.7" x2="318.3" y2="1153.2" stroke="#4a84ee" stroke-width="1.7"/><polygon points="309.9,1157.7 316.1,1149.2 320.4,1157.3" fill="#4a84ee"/><line x1="383.9" y1="1061.8" x2="302.1" y2="1051.0" stroke="#4a84ee" stroke-width="1.7"/><polygon points="292.7,1049.8 302.7,1046.5 301.5,1055.6" fill="#4a84ee"/><line x1="405.8" y1="1027.8" x2="353.1" y2="963.3" stroke="#4a84ee" stroke-width="1.7"/><polygon points="347.1,955.9 356.7,960.3 349.5,966.2" fill="#4a84ee"/><circle cx="458.8" cy="1082.0" r="77" fill="#c2cfd0"/><text x="463.4" y="876.7" font-size="19.0" fill="#1e1e1e" text-anchor="middle" font-weight="normal" font-family="Liberation Sans, sans-serif" >顾问方</text><text x="614.7" y="933.9" font-size="19.0" fill="#1e1e1e" text-anchor="middle" font-weight="normal" font-family="Liberation Sans, sans-serif" >厨房设计</text><text x="678.6" y="1065.8" font-size="19.0" fill="#1e1e1e" text-anchor="middle" font-weight="normal" font-family="Liberation Sans, sans-serif" >设备方</text><text x="650.7" y="1202.1" font-size="19.0" fill="#1e1e1e" text-anchor="middle" font-weight="normal" font-family="Liberation Sans, sans-serif" >室内设计</text><text x="534.3" y="1293.6" font-size="19.0" fill="#1e1e1e" text-anchor="middle" font-weight="normal" font-family="Liberation Sans, sans-serif" >运营商</text><text x="372.9" y="1283.6" font-size="19.0" fill="#1e1e1e" text-anchor="middle" font-weight="normal" font-family="Liberation Sans, sans-serif" >施工方</text><text x="270.6" y="1181.7" font-size="19.0" fill="#1e1e1e" text-anchor="middle" font-weight="normal" font-family="Liberation Sans, sans-serif" >营建部门</text><text x="251.3" y="1055.8" font-size="19.0" fill="#1e1e1e" text-anchor="middle" font-weight="normal" font-family="Liberation Sans, sans-serif" >规划部门</text><text x="310.9" y="937.9" font-size="19.0" fill="#1e1e1e" text-anchor="middle" font-weight="normal" font-family="Liberation Sans, sans-serif" >食药监</text><text x="458.8" y="1080.0" font-size="31.0" fill="#111" text-anchor="middle" font-weight="normal" font-family="Liberation Sans, sans-serif" >客</text><text x="458.8" y="1116.7" font-size="31.0" fill="#111" text-anchor="middle" font-weight="normal" font-family="Liberation Sans, sans-serif" >户</text><text x="476.6" y="1462.0" font-size="19.0" fill="#2a2a2a" text-anchor="middle" font-weight="normal" font-family="Liberation Sans, sans-serif" letter-spacing="-0.3">管理成本、时间成本、对接成本巨大，容易产生多专业衔接的真空区域，造成不可估量的损失</text><text x="449.0" y="1532.9" font-size="31.0" fill="#333" text-anchor="middle" font-weight="normal" font-family="Liberation Sans, sans-serif" >传统模式</text><text x="449.0" y="1560.9" font-size="22.0" fill="#444" text-anchor="middle" font-weight="normal" font-family="Liberation Sans, sans-serif" >Traditional model</text><circle cx="1259.0" cy="1081.0" r="181.0" fill="#b4c3c7"/><defs><filter id="sh" x="-20%" y="-20%" width="140%" height="140%"><feGaussianBlur stdDeviation="3.5"/></filter><clipPath id="cl"><circle cx="1259.0" cy="1081.0" r="182"/></clipPath></defs><g clip-path="url(#cl)"><g filter="url(#sh)"><path d="M1146.0,885.3 L1149.6,883.2 L1153.2,881.3 L1156.9,879.4 L1160.6,877.6 L1164.3,875.8 L1168.1,874.1 L1171.8,872.5 L1175.7,870.9 L1179.5,869.4 L1183.4,868.0 L1187.3,866.7 L1191.2,865.4 L1195.1,864.2 L1199.1,863.1 L1203.1,862.0 L1207.1,861.0 L1211.1,860.1 L1215.1,859.3 L1219.2,858.5 L1223.3,857.8 L1227.3,857.2 L1231.4,856.7 L1235.5,856.2 L1239.6,855.8 L1259.0,828.5 L1278.4,855.8 L1282.5,856.2 L1286.6,856.7 L1290.7,857.2 L1294.7,857.8 L1298.8,858.5 L1302.9,859.3 L1306.9,860.1 L1310.9,861.0 L1314.9,862.0 L1318.9,863.1 L1322.9,864.2 L1326.8,865.4 L1330.7,866.7 L1334.6,868.0 L1338.5,869.4 L1342.3,870.9 L1346.2,872.5 L1349.9,874.1 L1353.7,875.8 L1357.4,877.6 L1361.1,879.4 L1364.8,881.3 L1368.4,883.2 L1372.0,885.3 L1330.0,958.0 L1327.6,956.0 L1325.1,954.0 L1322.6,952.0 L1320.0,950.1 L1317.4,948.2 L1314.7,946.4 L1312.0,944.7 L1309.2,942.9 L1306.4,941.3 L1303.6,939.7 L1300.6,938.1 L1297.7,936.6 L1294.7,935.2 L1291.6,933.8 L1288.6,932.4 L1285.4,931.1 L1282.3,929.9 L1279.0,928.7 L1275.8,927.6 L1272.5,926.6 L1269.2,925.6 L1265.8,924.7 L1262.4,923.8 L1259.0,923.0 L1255.5,922.3 L1252.0,921.6 L1248.5,921.0 L1245.0,920.4 L1241.4,920.0 L1237.7,919.6 L1234.1,919.3 L1230.4,919.0 L1226.7,918.8 L1223.0,918.7 L1219.3,918.7 L1215.5,918.7 L1211.7,918.9 L1207.9,919.1 L1204.1,919.4 L1200.3,919.8 L1196.5,920.2 L1192.6,920.8 L1188.8,921.4 L1184.9,922.2 L1181.1,923.0 L1177.2,923.9 L1173.4,924.9 L1169.5,926.0Z" fill="none" stroke="#5f7178" stroke-width="9" opacity="0.75"/><path d="M1372.0,885.3 L1375.6,887.4 L1379.1,889.5 L1382.5,891.8 L1386.0,894.0 L1389.4,896.4 L1392.7,898.8 L1396.0,901.3 L1399.3,903.8 L1402.5,906.4 L1405.6,909.0 L1408.7,911.7 L1411.8,914.5 L1414.8,917.3 L1417.8,920.2 L1420.7,923.1 L1423.5,926.1 L1426.3,929.1 L1429.1,932.2 L1431.8,935.3 L1434.4,938.5 L1437.0,941.7 L1439.5,945.0 L1441.9,948.3 L1444.3,951.6 L1477.7,954.7 L1463.7,985.2 L1465.4,988.9 L1467.0,992.7 L1468.6,996.5 L1470.1,1000.4 L1471.6,1004.2 L1472.9,1008.1 L1474.2,1012.0 L1475.4,1016.0 L1476.6,1019.9 L1477.7,1023.9 L1478.7,1027.9 L1479.6,1031.9 L1480.5,1036.0 L1481.3,1040.0 L1482.0,1044.1 L1482.6,1048.1 L1483.2,1052.2 L1483.6,1056.3 L1484.1,1060.4 L1484.4,1064.5 L1484.7,1068.6 L1484.8,1072.8 L1485.0,1076.9 L1485.0,1081.0 L1401.0,1081.0 L1401.6,1077.9 L1402.1,1074.8 L1402.5,1071.6 L1402.9,1068.4 L1403.2,1065.2 L1403.4,1062.0 L1403.6,1058.7 L1403.7,1055.5 L1403.7,1052.2 L1403.7,1048.9 L1403.6,1045.6 L1403.4,1042.3 L1403.1,1039.0 L1402.8,1035.7 L1402.4,1032.3 L1402.0,1029.0 L1401.5,1025.6 L1400.9,1022.2 L1400.2,1018.9 L1399.5,1015.5 L1398.7,1012.1 L1397.8,1008.7 L1396.9,1005.4 L1395.8,1002.0 L1394.7,998.6 L1393.6,995.3 L1392.3,991.9 L1391.0,988.6 L1389.6,985.2 L1388.2,981.9 L1386.6,978.6 L1385.0,975.3 L1383.3,972.0 L1381.6,968.7 L1379.7,965.4 L1377.8,962.2 L1375.8,959.0 L1373.7,955.8 L1371.5,952.7 L1369.3,949.6 L1367.0,946.5 L1364.6,943.4 L1362.1,940.4 L1359.5,937.4 L1356.9,934.5 L1354.2,931.6 L1351.4,928.8 L1348.5,926.0Z" fill="none" stroke="#5f7178" stroke-width="9" opacity="0.75"/><path d="M1485.0,1081.0 L1485.0,1085.1 L1484.8,1089.2 L1484.7,1093.4 L1484.4,1097.5 L1484.1,1101.6 L1483.6,1105.7 L1483.2,1109.8 L1482.6,1113.9 L1482.0,1117.9 L1481.3,1122.0 L1480.5,1126.0 L1479.6,1130.1 L1478.7,1134.1 L1477.7,1138.1 L1476.6,1142.1 L1475.4,1146.0 L1474.2,1150.0 L1472.9,1153.9 L1471.6,1157.8 L1470.1,1161.6 L1468.6,1165.5 L1467.0,1169.3 L1465.4,1173.1 L1463.7,1176.8 L1477.7,1207.2 L1444.3,1210.4 L1441.9,1213.7 L1439.5,1217.0 L1437.0,1220.3 L1434.4,1223.5 L1431.8,1226.7 L1429.1,1229.8 L1426.3,1232.9 L1423.5,1235.9 L1420.7,1238.9 L1417.8,1241.8 L1414.8,1244.7 L1411.8,1247.5 L1408.7,1250.3 L1405.6,1253.0 L1402.5,1255.6 L1399.3,1258.2 L1396.0,1260.7 L1392.7,1263.2 L1389.4,1265.6 L1386.0,1268.0 L1382.5,1270.2 L1379.1,1272.5 L1375.6,1274.6 L1372.0,1276.7 L1330.0,1204.0 L1333.0,1202.9 L1335.9,1201.8 L1338.9,1200.6 L1341.8,1199.3 L1344.8,1198.0 L1347.7,1196.6 L1350.6,1195.1 L1353.4,1193.5 L1356.3,1191.9 L1359.1,1190.3 L1361.9,1188.5 L1364.7,1186.7 L1367.5,1184.8 L1370.2,1182.9 L1372.9,1180.9 L1375.6,1178.8 L1378.2,1176.7 L1380.8,1174.5 L1383.4,1172.2 L1386.0,1169.9 L1388.5,1167.5 L1391.0,1165.1 L1393.4,1162.6 L1395.8,1160.0 L1398.2,1157.4 L1400.5,1154.7 L1402.8,1151.9 L1405.1,1149.1 L1407.3,1146.2 L1409.4,1143.3 L1411.5,1140.3 L1413.6,1137.3 L1415.6,1134.2 L1417.5,1131.0 L1419.4,1127.8 L1421.3,1124.5 L1423.0,1121.1 L1424.7,1117.7 L1426.4,1114.3 L1428.0,1110.8 L1429.5,1107.2 L1430.9,1103.6 L1432.3,1100.0 L1433.6,1096.3 L1434.8,1092.5 L1436.0,1088.7 L1437.0,1084.9 L1438.0,1081.0Z" fill="none" stroke="#5f7178" stroke-width="9" opacity="0.75"/><path d="M1372.0,1276.7 L1368.4,1278.8 L1364.8,1280.7 L1361.1,1282.6 L1357.4,1284.4 L1353.7,1286.2 L1349.9,1287.9 L1346.2,1289.5 L1342.3,1291.1 L1338.5,1292.6 L1334.6,1294.0 L1330.7,1295.3 L1326.8,1296.6 L1322.9,1297.8 L1318.9,1298.9 L1314.9,1300.0 L1310.9,1301.0 L1306.9,1301.9 L1302.9,1302.7 L1298.8,1303.5 L1294.7,1304.2 L1290.7,1304.8 L1286.6,1305.3 L1282.5,1305.8 L1278.4,1306.2 L1259.0,1333.5 L1239.6,1306.2 L1235.5,1305.8 L1231.4,1305.3 L1227.3,1304.8 L1223.3,1304.2 L1219.2,1303.5 L1215.1,1302.7 L1211.1,1301.9 L1207.1,1301.0 L1203.1,1300.0 L1199.1,1298.9 L1195.1,1297.8 L1191.2,1296.6 L1187.3,1295.3 L1183.4,1294.0 L1179.5,1292.6 L1175.7,1291.1 L1171.8,1289.5 L1168.1,1287.9 L1164.3,1286.2 L1160.6,1284.4 L1156.9,1282.6 L1153.2,1280.7 L1149.6,1278.8 L1146.0,1276.7 L1188.0,1204.0 L1190.4,1206.0 L1192.9,1208.0 L1195.4,1210.0 L1198.0,1211.9 L1200.6,1213.8 L1203.3,1215.6 L1206.0,1217.3 L1208.8,1219.1 L1211.6,1220.7 L1214.4,1222.3 L1217.4,1223.9 L1220.3,1225.4 L1223.3,1226.8 L1226.4,1228.2 L1229.4,1229.6 L1232.6,1230.9 L1235.7,1232.1 L1239.0,1233.3 L1242.2,1234.4 L1245.5,1235.4 L1248.8,1236.4 L1252.2,1237.3 L1255.6,1238.2 L1259.0,1239.0 L1262.5,1239.7 L1266.0,1240.4 L1269.5,1241.0 L1273.0,1241.6 L1276.6,1242.0 L1280.3,1242.4 L1283.9,1242.7 L1287.6,1243.0 L1291.3,1243.2 L1295.0,1243.3 L1298.7,1243.3 L1302.5,1243.3 L1306.3,1243.1 L1310.1,1242.9 L1313.9,1242.6 L1317.7,1242.2 L1321.5,1241.8 L1325.4,1241.2 L1329.2,1240.6 L1333.1,1239.8 L1336.9,1239.0 L1340.8,1238.1 L1344.6,1237.1 L1348.5,1236.0Z" fill="none" stroke="#5f7178" stroke-width="9" opacity="0.75"/><path d="M1146.0,1276.7 L1142.4,1274.6 L1138.9,1272.5 L1135.5,1270.2 L1132.0,1268.0 L1128.6,1265.6 L1125.3,1263.2 L1122.0,1260.7 L1118.7,1258.2 L1115.5,1255.6 L1112.4,1253.0 L1109.3,1250.3 L1106.2,1247.5 L1103.2,1244.7 L1100.2,1241.8 L1097.3,1238.9 L1094.5,1235.9 L1091.7,1232.9 L1088.9,1229.8 L1086.2,1226.7 L1083.6,1223.5 L1081.0,1220.3 L1078.5,1217.0 L1076.1,1213.7 L1073.7,1210.4 L1040.3,1207.2 L1054.3,1176.8 L1052.6,1173.1 L1051.0,1169.3 L1049.4,1165.5 L1047.9,1161.6 L1046.4,1157.8 L1045.1,1153.9 L1043.8,1150.0 L1042.6,1146.0 L1041.4,1142.1 L1040.3,1138.1 L1039.3,1134.1 L1038.4,1130.1 L1037.5,1126.0 L1036.7,1122.0 L1036.0,1117.9 L1035.4,1113.9 L1034.8,1109.8 L1034.4,1105.7 L1033.9,1101.6 L1033.6,1097.5 L1033.3,1093.4 L1033.2,1089.2 L1033.0,1085.1 L1033.0,1081.0 L1117.0,1081.0 L1116.4,1084.1 L1115.9,1087.2 L1115.5,1090.4 L1115.1,1093.6 L1114.8,1096.8 L1114.6,1100.0 L1114.4,1103.3 L1114.3,1106.5 L1114.3,1109.8 L1114.3,1113.1 L1114.4,1116.4 L1114.6,1119.7 L1114.9,1123.0 L1115.2,1126.3 L1115.6,1129.7 L1116.0,1133.0 L1116.5,1136.4 L1117.1,1139.8 L1117.8,1143.1 L1118.5,1146.5 L1119.3,1149.9 L1120.2,1153.3 L1121.1,1156.6 L1122.2,1160.0 L1123.3,1163.4 L1124.4,1166.7 L1125.7,1170.1 L1127.0,1173.4 L1128.4,1176.8 L1129.8,1180.1 L1131.4,1183.4 L1133.0,1186.7 L1134.7,1190.0 L1136.4,1193.3 L1138.3,1196.6 L1140.2,1199.8 L1142.2,1203.0 L1144.3,1206.2 L1146.5,1209.3 L1148.7,1212.4 L1151.0,1215.5 L1153.4,1218.6 L1155.9,1221.6 L1158.5,1224.6 L1161.1,1227.5 L1163.8,1230.4 L1166.6,1233.2 L1169.5,1236.0Z" fill="none" stroke="#5f7178" stroke-width="9" opacity="0.75"/><path d="M1033.0,1081.0 L1033.0,1076.9 L1033.2,1072.8 L1033.3,1068.6 L1033.6,1064.5 L1033.9,1060.4 L1034.4,1056.3 L1034.8,1052.2 L1035.4,1048.1 L1036.0,1044.1 L1036.7,1040.0 L1037.5,1036.0 L1038.4,1031.9 L1039.3,1027.9 L1040.3,1023.9 L1041.4,1019.9 L1042.6,1016.0 L1043.8,1012.0 L1045.1,1008.1 L1046.4,1004.2 L1047.9,1000.4 L1049.4,996.5 L1051.0,992.7 L1052.6,988.9 L1054.3,985.2 L1040.3,954.8 L1073.7,951.6 L1076.1,948.3 L1078.5,945.0 L1081.0,941.7 L1083.6,938.5 L1086.2,935.3 L1088.9,932.2 L1091.7,929.1 L1094.5,926.1 L1097.3,923.1 L1100.2,920.2 L1103.2,917.3 L1106.2,914.5 L1109.3,911.7 L1112.4,909.0 L1115.5,906.4 L1118.7,903.8 L1122.0,901.3 L1125.3,898.8 L1128.6,896.4 L1132.0,894.0 L1135.5,891.8 L1138.9,889.5 L1142.4,887.4 L1146.0,885.3 L1188.0,958.0 L1185.0,959.1 L1182.1,960.2 L1179.1,961.4 L1176.2,962.7 L1173.2,964.0 L1170.3,965.4 L1167.4,966.9 L1164.6,968.5 L1161.7,970.1 L1158.9,971.7 L1156.1,973.5 L1153.3,975.3 L1150.5,977.2 L1147.8,979.1 L1145.1,981.1 L1142.4,983.2 L1139.8,985.3 L1137.2,987.5 L1134.6,989.8 L1132.0,992.1 L1129.5,994.5 L1127.0,996.9 L1124.6,999.4 L1122.2,1002.0 L1119.8,1004.6 L1117.5,1007.3 L1115.2,1010.1 L1112.9,1012.9 L1110.7,1015.8 L1108.6,1018.7 L1106.5,1021.7 L1104.4,1024.7 L1102.4,1027.8 L1100.5,1031.0 L1098.6,1034.2 L1096.7,1037.5 L1095.0,1040.9 L1093.3,1044.3 L1091.6,1047.7 L1090.0,1051.2 L1088.5,1054.8 L1087.1,1058.4 L1085.7,1062.0 L1084.4,1065.7 L1083.2,1069.5 L1082.0,1073.3 L1081.0,1077.1 L1080.0,1081.0Z" fill="none" stroke="#5f7178" stroke-width="9" opacity="0.75"/></g></g><line x1="1402.0" y1="1081.0" x2="1380.0" y2="1081.0" stroke="#8d9ca1" stroke-width="2"/><line x1="1330.5" y1="1204.8" x2="1319.5" y2="1185.8" stroke="#8d9ca1" stroke-width="2"/><line x1="1187.5" y1="1204.8" x2="1198.5" y2="1185.8" stroke="#8d9ca1" stroke-width="2"/><line x1="1116.0" y1="1081.0" x2="1138.0" y2="1081.0" stroke="#8d9ca1" stroke-width="2"/><line x1="1187.5" y1="957.2" x2="1198.5" y2="976.2" stroke="#8d9ca1" stroke-width="2"/><line x1="1330.5" y1="957.2" x2="1319.5" y2="976.2" stroke="#8d9ca1" stroke-width="2"/><path d="M1146.0,885.3 L1149.6,883.2 L1153.2,881.3 L1156.9,879.4 L1160.6,877.6 L1164.3,875.8 L1168.1,874.1 L1171.8,872.5 L1175.7,870.9 L1179.5,869.4 L1183.4,868.0 L1187.3,866.7 L1191.2,865.4 L1195.1,864.2 L1199.1,863.1 L1203.1,862.0 L1207.1,861.0 L1211.1,860.1 L1215.1,859.3 L1219.2,858.5 L1223.3,857.8 L1227.3,857.2 L1231.4,856.7 L1235.5,856.2 L1239.6,855.8 L1259.0,828.5 L1278.4,855.8 L1282.5,856.2 L1286.6,856.7 L1290.7,857.2 L1294.7,857.8 L1298.8,858.5 L1302.9,859.3 L1306.9,860.1 L1310.9,861.0 L1314.9,862.0 L1318.9,863.1 L1322.9,864.2 L1326.8,865.4 L1330.7,866.7 L1334.6,868.0 L1338.5,869.4 L1342.3,870.9 L1346.2,872.5 L1349.9,874.1 L1353.7,875.8 L1357.4,877.6 L1361.1,879.4 L1364.8,881.3 L1368.4,883.2 L1372.0,885.3 L1330.0,958.0 L1327.6,956.0 L1325.1,954.0 L1322.6,952.0 L1320.0,950.1 L1317.4,948.2 L1314.7,946.4 L1312.0,944.7 L1309.2,942.9 L1306.4,941.3 L1303.6,939.7 L1300.6,938.1 L1297.7,936.6 L1294.7,935.2 L1291.6,933.8 L1288.6,932.4 L1285.4,931.1 L1282.3,929.9 L1279.0,928.7 L1275.8,927.6 L1272.5,926.6 L1269.2,925.6 L1265.8,924.7 L1262.4,923.8 L1259.0,923.0 L1255.5,922.3 L1252.0,921.6 L1248.5,921.0 L1245.0,920.4 L1241.4,920.0 L1237.7,919.6 L1234.1,919.3 L1230.4,919.0 L1226.7,918.8 L1223.0,918.7 L1219.3,918.7 L1215.5,918.7 L1211.7,918.9 L1207.9,919.1 L1204.1,919.4 L1200.3,919.8 L1196.5,920.2 L1192.6,920.8 L1188.8,921.4 L1184.9,922.2 L1181.1,923.0 L1177.2,923.9 L1173.4,924.9 L1169.5,926.0Z" fill="#f9e9c0"/><path d="M1372.0,885.3 L1375.6,887.4 L1379.1,889.5 L1382.5,891.8 L1386.0,894.0 L1389.4,896.4 L1392.7,898.8 L1396.0,901.3 L1399.3,903.8 L1402.5,906.4 L1405.6,909.0 L1408.7,911.7 L1411.8,914.5 L1414.8,917.3 L1417.8,920.2 L1420.7,923.1 L1423.5,926.1 L1426.3,929.1 L1429.1,932.2 L1431.8,935.3 L1434.4,938.5 L1437.0,941.7 L1439.5,945.0 L1441.9,948.3 L1444.3,951.6 L1477.7,954.7 L1463.7,985.2 L1465.4,988.9 L1467.0,992.7 L1468.6,996.5 L1470.1,1000.4 L1471.6,1004.2 L1472.9,1008.1 L1474.2,1012.0 L1475.4,1016.0 L1476.6,1019.9 L1477.7,1023.9 L1478.7,1027.9 L1479.6,1031.9 L1480.5,1036.0 L1481.3,1040.0 L1482.0,1044.1 L1482.6,1048.1 L1483.2,1052.2 L1483.6,1056.3 L1484.1,1060.4 L1484.4,1064.5 L1484.7,1068.6 L1484.8,1072.8 L1485.0,1076.9 L1485.0,1081.0 L1401.0,1081.0 L1401.6,1077.9 L1402.1,1074.8 L1402.5,1071.6 L1402.9,1068.4 L1403.2,1065.2 L1403.4,1062.0 L1403.6,1058.7 L1403.7,1055.5 L1403.7,1052.2 L1403.7,1048.9 L1403.6,1045.6 L1403.4,1042.3 L1403.1,1039.0 L1402.8,1035.7 L1402.4,1032.3 L1402.0,1029.0 L1401.5,1025.6 L1400.9,1022.2 L1400.2,1018.9 L1399.5,1015.5 L1398.7,1012.1 L1397.8,1008.7 L1396.9,1005.4 L1395.8,1002.0 L1394.7,998.6 L1393.6,995.3 L1392.3,991.9 L1391.0,988.6 L1389.6,985.2 L1388.2,981.9 L1386.6,978.6 L1385.0,975.3 L1383.3,972.0 L1381.6,968.7 L1379.7,965.4 L1377.8,962.2 L1375.8,959.0 L1373.7,955.8 L1371.5,952.7 L1369.3,949.6 L1367.0,946.5 L1364.6,943.4 L1362.1,940.4 L1359.5,937.4 L1356.9,934.5 L1354.2,931.6 L1351.4,928.8 L1348.5,926.0Z" fill="#b2efa1"/><path d="M1485.0,1081.0 L1485.0,1085.1 L1484.8,1089.2 L1484.7,1093.4 L1484.4,1097.5 L1484.1,1101.6 L1483.6,1105.7 L1483.2,1109.8 L1482.6,1113.9 L1482.0,1117.9 L1481.3,1122.0 L1480.5,1126.0 L1479.6,1130.1 L1478.7,1134.1 L1477.7,1138.1 L1476.6,1142.1 L1475.4,1146.0 L1474.2,1150.0 L1472.9,1153.9 L1471.6,1157.8 L1470.1,1161.6 L1468.6,1165.5 L1467.0,1169.3 L1465.4,1173.1 L1463.7,1176.8 L1477.7,1207.2 L1444.3,1210.4 L1441.9,1213.7 L1439.5,1217.0 L1437.0,1220.3 L1434.4,1223.5 L1431.8,1226.7 L1429.1,1229.8 L1426.3,1232.9 L1423.5,1235.9 L1420.7,1238.9 L1417.8,1241.8 L1414.8,1244.7 L1411.8,1247.5 L1408.7,1250.3 L1405.6,1253.0 L1402.5,1255.6 L1399.3,1258.2 L1396.0,1260.7 L1392.7,1263.2 L1389.4,1265.6 L1386.0,1268.0 L1382.5,1270.2 L1379.1,1272.5 L1375.6,1274.6 L1372.0,1276.7 L1330.0,1204.0 L1333.0,1202.9 L1335.9,1201.8 L1338.9,1200.6 L1341.8,1199.3 L1344.8,1198.0 L1347.7,1196.6 L1350.6,1195.1 L1353.4,1193.5 L1356.3,1191.9 L1359.1,1190.3 L1361.9,1188.5 L1364.7,1186.7 L1367.5,1184.8 L1370.2,1182.9 L1372.9,1180.9 L1375.6,1178.8 L1378.2,1176.7 L1380.8,1174.5 L1383.4,1172.2 L1386.0,1169.9 L1388.5,1167.5 L1391.0,1165.1 L1393.4,1162.6 L1395.8,1160.0 L1398.2,1157.4 L1400.5,1154.7 L1402.8,1151.9 L1405.1,1149.1 L1407.3,1146.2 L1409.4,1143.3 L1411.5,1140.3 L1413.6,1137.3 L1415.6,1134.2 L1417.5,1131.0 L1419.4,1127.8 L1421.3,1124.5 L1423.0,1121.1 L1424.7,1117.7 L1426.4,1114.3 L1428.0,1110.8 L1429.5,1107.2 L1430.9,1103.6 L1432.3,1100.0 L1433.6,1096.3 L1434.8,1092.5 L1436.0,1088.7 L1437.0,1084.9 L1438.0,1081.0Z" fill="#93d2f0"/><path d="M1372.0,1276.7 L1368.4,1278.8 L1364.8,1280.7 L1361.1,1282.6 L1357.4,1284.4 L1353.7,1286.2 L1349.9,1287.9 L1346.2,1289.5 L1342.3,1291.1 L1338.5,1292.6 L1334.6,1294.0 L1330.7,1295.3 L1326.8,1296.6 L1322.9,1297.8 L1318.9,1298.9 L1314.9,1300.0 L1310.9,1301.0 L1306.9,1301.9 L1302.9,1302.7 L1298.8,1303.5 L1294.7,1304.2 L1290.7,1304.8 L1286.6,1305.3 L1282.5,1305.8 L1278.4,1306.2 L1259.0,1333.5 L1239.6,1306.2 L1235.5,1305.8 L1231.4,1305.3 L1227.3,1304.8 L1223.3,1304.2 L1219.2,1303.5 L1215.1,1302.7 L1211.1,1301.9 L1207.1,1301.0 L1203.1,1300.0 L1199.1,1298.9 L1195.1,1297.8 L1191.2,1296.6 L1187.3,1295.3 L1183.4,1294.0 L1179.5,1292.6 L1175.7,1291.1 L1171.8,1289.5 L1168.1,1287.9 L1164.3,1286.2 L1160.6,1284.4 L1156.9,1282.6 L1153.2,1280.7 L1149.6,1278.8 L1146.0,1276.7 L1188.0,1204.0 L1190.4,1206.0 L1192.9,1208.0 L1195.4,1210.0 L1198.0,1211.9 L1200.6,1213.8 L1203.3,1215.6 L1206.0,1217.3 L1208.8,1219.1 L1211.6,1220.7 L1214.4,1222.3 L1217.4,1223.9 L1220.3,1225.4 L1223.3,1226.8 L1226.4,1228.2 L1229.4,1229.6 L1232.6,1230.9 L1235.7,1232.1 L1239.0,1233.3 L1242.2,1234.4 L1245.5,1235.4 L1248.8,1236.4 L1252.2,1237.3 L1255.6,1238.2 L1259.0,1239.0 L1262.5,1239.7 L1266.0,1240.4 L1269.5,1241.0 L1273.0,1241.6 L1276.6,1242.0 L1280.3,1242.4 L1283.9,1242.7 L1287.6,1243.0 L1291.3,1243.2 L1295.0,1243.3 L1298.7,1243.3 L1302.5,1243.3 L1306.3,1243.1 L1310.1,1242.9 L1313.9,1242.6 L1317.7,1242.2 L1321.5,1241.8 L1325.4,1241.2 L1329.2,1240.6 L1333.1,1239.8 L1336.9,1239.0 L1340.8,1238.1 L1344.6,1237.1 L1348.5,1236.0Z" fill="#f19b84"/><path d="M1146.0,1276.7 L1142.4,1274.6 L1138.9,1272.5 L1135.5,1270.2 L1132.0,1268.0 L1128.6,1265.6 L1125.3,1263.2 L1122.0,1260.7 L1118.7,1258.2 L1115.5,1255.6 L1112.4,1253.0 L1109.3,1250.3 L1106.2,1247.5 L1103.2,1244.7 L1100.2,1241.8 L1097.3,1238.9 L1094.5,1235.9 L1091.7,1232.9 L1088.9,1229.8 L1086.2,1226.7 L1083.6,1223.5 L1081.0,1220.3 L1078.5,1217.0 L1076.1,1213.7 L1073.7,1210.4 L1040.3,1207.2 L1054.3,1176.8 L1052.6,1173.1 L1051.0,1169.3 L1049.4,1165.5 L1047.9,1161.6 L1046.4,1157.8 L1045.1,1153.9 L1043.8,1150.0 L1042.6,1146.0 L1041.4,1142.1 L1040.3,1138.1 L1039.3,1134.1 L1038.4,1130.1 L1037.5,1126.0 L1036.7,1122.0 L1036.0,1117.9 L1035.4,1113.9 L1034.8,1109.8 L1034.4,1105.7 L1033.9,1101.6 L1033.6,1097.5 L1033.3,1093.4 L1033.2,1089.2 L1033.0,1085.1 L1033.0,1081.0 L1117.0,1081.0 L1116.4,1084.1 L1115.9,1087.2 L1115.5,1090.4 L1115.1,1093.6 L1114.8,1096.8 L1114.6,1100.0 L1114.4,1103.3 L1114.3,1106.5 L1114.3,1109.8 L1114.3,1113.1 L1114.4,1116.4 L1114.6,1119.7 L1114.9,1123.0 L1115.2,1126.3 L1115.6,1129.7 L1116.0,1133.0 L1116.5,1136.4 L1117.1,1139.8 L1117.8,1143.1 L1118.5,1146.5 L1119.3,1149.9 L1120.2,1153.3 L1121.1,1156.6 L1122.2,1160.0 L1123.3,1163.4 L1124.4,1166.7 L1125.7,1170.1 L1127.0,1173.4 L1128.4,1176.8 L1129.8,1180.1 L1131.4,1183.4 L1133.0,1186.7 L1134.7,1190.0 L1136.4,1193.3 L1138.3,1196.6 L1140.2,1199.8 L1142.2,1203.0 L1144.3,1206.2 L1146.5,1209.3 L1148.7,1212.4 L1151.0,1215.5 L1153.4,1218.6 L1155.9,1221.6 L1158.5,1224.6 L1161.1,1227.5 L1163.8,1230.4 L1166.6,1233.2 L1169.5,1236.0Z" fill="#9fc0d7"/><path d="M1033.0,1081.0 L1033.0,1076.9 L1033.2,1072.8 L1033.3,1068.6 L1033.6,1064.5 L1033.9,1060.4 L1034.4,1056.3 L1034.8,1052.2 L1035.4,1048.1 L1036.0,1044.1 L1036.7,1040.0 L1037.5,1036.0 L1038.4,1031.9 L1039.3,1027.9 L1040.3,1023.9 L1041.4,1019.9 L1042.6,1016.0 L1043.8,1012.0 L1045.1,1008.1 L1046.4,1004.2 L1047.9,1000.4 L1049.4,996.5 L1051.0,992.7 L1052.6,988.9 L1054.3,985.2 L1040.3,954.8 L1073.7,951.6 L1076.1,948.3 L1078.5,945.0 L1081.0,941.7 L1083.6,938.5 L1086.2,935.3 L1088.9,932.2 L1091.7,929.1 L1094.5,926.1 L1097.3,923.1 L1100.2,920.2 L1103.2,917.3 L1106.2,914.5 L1109.3,911.7 L1112.4,909.0 L1115.5,906.4 L1118.7,903.8 L1122.0,901.3 L1125.3,898.8 L1128.6,896.4 L1132.0,894.0 L1135.5,891.8 L1138.9,889.5 L1142.4,887.4 L1146.0,885.3 L1188.0,958.0 L1185.0,959.1 L1182.1,960.2 L1179.1,961.4 L1176.2,962.7 L1173.2,964.0 L1170.3,965.4 L1167.4,966.9 L1164.6,968.5 L1161.7,970.1 L1158.9,971.7 L1156.1,973.5 L1153.3,975.3 L1150.5,977.2 L1147.8,979.1 L1145.1,981.1 L1142.4,983.2 L1139.8,985.3 L1137.2,987.5 L1134.6,989.8 L1132.0,992.1 L1129.5,994.5 L1127.0,996.9 L1124.6,999.4 L1122.2,1002.0 L1119.8,1004.6 L1117.5,1007.3 L1115.2,1010.1 L1112.9,1012.9 L1110.7,1015.8 L1108.6,1018.7 L1106.5,1021.7 L1104.4,1024.7 L1102.4,1027.8 L1100.5,1031.0 L1098.6,1034.2 L1096.7,1037.5 L1095.0,1040.9 L1093.3,1044.3 L1091.6,1047.7 L1090.0,1051.2 L1088.5,1054.8 L1087.1,1058.4 L1085.7,1062.0 L1084.4,1065.7 L1083.2,1069.5 L1082.0,1073.3 L1081.0,1077.1 L1080.0,1081.0Z" fill="#42dca5"/><linearGradient id="g0" gradientUnits="userSpaceOnUse" x1="1169.5" y1="926.0" x2="1179.9" y2="920.0"><stop offset="0" stop-color="#3d5058" stop-opacity="0.22"/><stop offset="1" stop-color="#3d5058" stop-opacity="0"/></linearGradient><polygon points="1169.5,926.0 1145.8,884.8 1156.1,878.8 1179.9,920.0" fill="url(#g0)"/><linearGradient id="g1" gradientUnits="userSpaceOnUse" x1="1348.5" y1="926.0" x2="1358.9" y2="932.0"><stop offset="0" stop-color="#3d5058" stop-opacity="0.22"/><stop offset="1" stop-color="#3d5058" stop-opacity="0"/></linearGradient><polygon points="1348.5,926.0 1372.2,884.8 1382.6,890.8 1358.9,932.0" fill="url(#g1)"/><linearGradient id="g2" gradientUnits="userSpaceOnUse" x1="1438.0" y1="1081.0" x2="1438.0" y2="1093.0"><stop offset="0" stop-color="#3d5058" stop-opacity="0.22"/><stop offset="1" stop-color="#3d5058" stop-opacity="0"/></linearGradient><polygon points="1438.0,1081.0 1485.5,1081.0 1485.5,1093.0 1438.0,1093.0" fill="url(#g2)"/><linearGradient id="g3" gradientUnits="userSpaceOnUse" x1="1348.5" y1="1236.0" x2="1338.1" y2="1242.0"><stop offset="0" stop-color="#3d5058" stop-opacity="0.22"/><stop offset="1" stop-color="#3d5058" stop-opacity="0"/></linearGradient><polygon points="1348.5,1236.0 1372.2,1277.2 1361.9,1283.2 1338.1,1242.0" fill="url(#g3)"/><linearGradient id="g4" gradientUnits="userSpaceOnUse" x1="1169.5" y1="1236.0" x2="1159.1" y2="1230.0"><stop offset="0" stop-color="#3d5058" stop-opacity="0.22"/><stop offset="1" stop-color="#3d5058" stop-opacity="0"/></linearGradient><polygon points="1169.5,1236.0 1145.8,1277.2 1135.4,1271.2 1159.1,1230.0" fill="url(#g4)"/><linearGradient id="g5" gradientUnits="userSpaceOnUse" x1="1080.0" y1="1081.0" x2="1080.0" y2="1069.0"><stop offset="0" stop-color="#3d5058" stop-opacity="0.22"/><stop offset="1" stop-color="#3d5058" stop-opacity="0"/></linearGradient><polygon points="1080.0,1081.0 1032.5,1081.0 1032.5,1069.0 1080.0,1069.0" fill="url(#g5)"/><circle cx="1259.0" cy="1081.0" r="121.5" fill="#fff"/><polygon points="1340.2,900.9 1333.7,911.9 1346.7,911.9" fill="#6a7d85"/><polygon points="1143.6,922.2 1137.1,911.2 1150.1,911.2" fill="#6a7d85"/><polygon points="1457.2,1072.4 1450.7,1061.4 1463.7,1061.4" fill="#6a7d85"/><polygon points="1374.2,1236.7 1367.7,1247.7 1380.7,1247.7" fill="#6a7d85"/><polygon points="1171.3,1267.9 1164.8,1256.9 1177.8,1256.9" fill="#6a7d85"/><polygon points="1056.9,1090.9 1050.4,1101.9 1063.4,1101.9" fill="#6a7d85"/><text x="0" y="0" font-size="26" fill="#6b7f87" text-anchor="middle" font-family="Liberation Serif" transform="translate(1191.5,903.2) rotate(2.3) translate(0,9.6)">餐</text><text x="0" y="0" font-size="26" fill="#6b7f87" text-anchor="middle" font-family="Liberation Serif" transform="translate(1218.9,904.3) rotate(5.4) translate(0,9.6)">饮</text><text x="0" y="0" font-size="26" fill="#6b7f87" text-anchor="middle" font-family="Liberation Serif" transform="translate(1246.9,908.4) rotate(8.7) translate(0,9.6)">顾</text><text x="0" y="0" font-size="26" fill="#6b7f87" text-anchor="middle" font-family="Liberation Serif" transform="translate(1273.1,912.6) rotate(9.0) translate(0,9.6)">问</text><text x="0" y="0" font-size="26" fill="#6b7f87" text-anchor="middle" font-family="Liberation Serif" transform="translate(1379.8,936.0) rotate(60.0) translate(0,9.6)">厨</text><text x="0" y="0" font-size="26" fill="#6b7f87" text-anchor="middle" font-family="Liberation Serif" transform="translate(1393.4,959.6) rotate(64.1) translate(0,9.6)">房</text><text x="0" y="0" font-size="26" fill="#6b7f87" text-anchor="middle" font-family="Liberation Serif" transform="translate(1404.5,986.9) rotate(71.2) translate(0,9.6)">设</text><text x="0" y="0" font-size="26" fill="#6b7f87" text-anchor="middle" font-family="Liberation Serif" transform="translate(1410.7,1010.6) rotate(75.2) translate(0,9.6)">计</text><text x="0" y="0" font-size="26" fill="#6b7f87" text-anchor="middle" font-family="Liberation Serif" transform="translate(1448.0,1118.6) rotate(110.9) translate(0,9.6)">餐</text><text x="0" y="0" font-size="26" fill="#6b7f87" text-anchor="middle" font-family="Liberation Serif" transform="translate(1436.3,1149.4) rotate(116.9) translate(0,9.6)">厅</text><text x="0" y="0" font-size="26" fill="#6b7f87" text-anchor="middle" font-family="Liberation Serif" transform="translate(1418.6,1176.5) rotate(130.2) translate(0,9.6)">设</text><text x="0" y="0" font-size="26" fill="#6b7f87" text-anchor="middle" font-family="Liberation Serif" transform="translate(1397.1,1195.7) rotate(138.3) translate(0,9.6)">计</text><text x="0" y="0" font-size="26" fill="#6b7f87" text-anchor="middle" font-family="Liberation Serif" transform="translate(1328.3,1257.9) rotate(-175.7) translate(0,9.6)">机</text><text x="0" y="0" font-size="26" fill="#6b7f87" text-anchor="middle" font-family="Liberation Serif" transform="translate(1300.0,1255.8) rotate(-172.1) translate(0,9.6)">电</text><text x="0" y="0" font-size="26" fill="#6b7f87" text-anchor="middle" font-family="Liberation Serif" transform="translate(1273.8,1250.4) rotate(-169.7) translate(0,9.6)">设</text><text x="0" y="0" font-size="26" fill="#6b7f87" text-anchor="middle" font-family="Liberation Serif" transform="translate(1246.0,1246.0) rotate(-171.1) translate(0,9.6)">计</text><text x="0" y="0" font-size="26" fill="#6b7f87" text-anchor="middle" font-family="Liberation Serif" transform="translate(1128.5,1215.6) rotate(-110.5) translate(0,9.6)">平</text><text x="0" y="0" font-size="26" fill="#6b7f87" text-anchor="middle" font-family="Liberation Serif" transform="translate(1120.2,1193.4) rotate(-109.2) translate(0,9.6)">面</text><text x="0" y="0" font-size="24" fill="#6b7f87" text-anchor="middle" font-family="Liberation Serif" transform="translate(1112.1,1168.6) rotate(-106.5) translate(0,8.9)">V</text><text x="0" y="0" font-size="24" fill="#6b7f87" text-anchor="middle" font-family="Liberation Serif" transform="translate(1108.1,1152.6) rotate(-107.8) translate(0,8.9)">I</text><text x="0" y="0" font-size="26" fill="#6b7f87" text-anchor="middle" font-family="Liberation Serif" transform="translate(1095.3,1116.1) rotate(-104.1) translate(0,9.6)">设</text><text x="0" y="0" font-size="26" fill="#6b7f87" text-anchor="middle" font-family="Liberation Serif" transform="translate(1092.6,1090.9) rotate(-96.2) translate(0,9.6)">计</text><text x="0" y="0" font-size="26" fill="#6b7f87" text-anchor="middle" font-family="Liberation Serif" transform="translate(1064.7,1052.0) rotate(-59.3) translate(0,9.6)">灯</text><text x="0" y="0" font-size="26" fill="#6b7f87" text-anchor="middle" font-family="Liberation Serif" transform="translate(1079.4,1027.1) rotate(-54.3) translate(0,9.6)">光</text><text x="0" y="0" font-size="26" fill="#6b7f87" text-anchor="middle" font-family="Liberation Serif" transform="translate(1095.9,1008.4) rotate(-46.4) translate(0,9.6)">软</text><text x="0" y="0" font-size="26" fill="#6b7f87" text-anchor="middle" font-family="Liberation Serif" transform="translate(1115.0,989.6) rotate(-43.6) translate(0,9.6)">装</text><text x="0" y="0" font-size="26" fill="#6b7f87" text-anchor="middle" font-family="Liberation Serif" transform="translate(1136.0,970.3) rotate(-40.4) translate(0,9.6)">设</text><text x="0" y="0" font-size="26" fill="#6b7f87" text-anchor="middle" font-family="Liberation Serif" transform="translate(1158.0,953.1) rotate(-38.0) translate(0,9.6)">计</text><text x="1259.0" y="1079.6" font-size="34.0" fill="#5c6f78" text-anchor="middle" font-weight="normal" font-family="Liberation Sans, sans-serif" letter-spacing="2">客户</text><text x="1259.0" y="1123.6" font-size="34.0" fill="#5c6f78" text-anchor="middle" font-weight="normal" font-family="Liberation Sans, sans-serif" letter-spacing="2">需求</text><text x="1261.7" y="771.0" font-size="18.5" fill="#222" text-anchor="middle" font-weight="normal" font-family="Liberation Sans, sans-serif" >解决餐饮架构</text><text x="1261.7" y="793.5" font-size="18.5" fill="#222" text-anchor="middle" font-weight="normal" font-family="Liberation Sans, sans-serif" >项目评估分析</text><text x="1261.7" y="816.0" font-size="18.5" fill="#222" text-anchor="middle" font-weight="normal" font-family="Liberation Sans, sans-serif" >对接运营方案</text><text x="1559.5" y="949.4" font-size="18.5" fill="#222" text-anchor="middle" font-weight="normal" font-family="Liberation Sans, sans-serif" >合理规划设计</text><text x="1559.5" y="971.9" font-size="18.5" fill="#222" text-anchor="middle" font-weight="normal" font-family="Liberation Sans, sans-serif" >成本构成优化</text><text x="1559.5" y="994.4" font-size="18.5" fill="#222" text-anchor="middle" font-weight="normal" font-family="Liberation Sans, sans-serif" >配合审核报建</text><text x="1558.5" y="1207.3" font-size="18.5" fill="#222" text-anchor="middle" font-weight="normal" font-family="Liberation Sans, sans-serif" >美化餐厅空间</text><text x="1558.5" y="1229.8" font-size="18.5" fill="#222" text-anchor="middle" font-weight="normal" font-family="Liberation Sans, sans-serif" >合理控制成本</text><text x="1558.5" y="1252.3" font-size="18.5" fill="#222" text-anchor="middle" font-weight="normal" font-family="Liberation Sans, sans-serif" >配合施工指导</text><text x="1261.7" y="1362.3" font-size="18.5" fill="#222" text-anchor="middle" font-weight="normal" font-family="Liberation Sans, sans-serif" >对接建筑机电</text><text x="1261.7" y="1384.8" font-size="18.5" fill="#222" text-anchor="middle" font-weight="normal" font-family="Liberation Sans, sans-serif" >提供项目需求</text><text x="1261.7" y="1407.3" font-size="18.5" fill="#222" text-anchor="middle" font-weight="normal" font-family="Liberation Sans, sans-serif" >合理设计规划</text><text x="961.2" y="1207.3" font-size="18.5" fill="#222" text-anchor="middle" font-weight="normal" font-family="Liberation Sans, sans-serif" >优化导视设计</text><text x="961.2" y="1229.8" font-size="18.5" fill="#222" text-anchor="middle" font-weight="normal" font-family="Liberation Sans, sans-serif" >餐单包装设计</text><text x="961.2" y="1252.3" font-size="18.5" fill="#222" text-anchor="middle" font-weight="normal" font-family="Liberation Sans, sans-serif" >美化餐厅输出</text><text x="951.8" y="950.8" font-size="18.5" fill="#222" text-anchor="middle" font-weight="normal" font-family="Liberation Sans, sans-serif" >保证合理照明</text><text x="951.8" y="973.3" font-size="18.5" fill="#222" text-anchor="middle" font-weight="normal" font-family="Liberation Sans, sans-serif" >增加餐厅气氛</text><text x="951.8" y="995.8" font-size="18.5" fill="#222" text-anchor="middle" font-weight="normal" font-family="Liberation Sans, sans-serif" >减少灯具损耗</text><text x="1286.0" y="1465.4" font-size="18.6" fill="#222" text-anchor="middle" font-weight="normal" font-family="Liberation Sans, sans-serif" letter-spacing="-0.2">“简意” 为客户对接各项专业，真实达到多专业协作，确保无真空地带造成损失，节省</text><text x="1284.0" y="1487.1" font-size="18.6" fill="#222" text-anchor="middle" font-weight="normal" font-family="Liberation Sans, sans-serif" letter-spacing="-0.5">管理成本、时间成本、对接成本、招采成本；</text><text x="1268.0" y="1532.5" font-size="31.0" fill="#333" text-anchor="middle" font-weight="normal" font-family="Liberation Sans, sans-serif" >简意模式</text><text x="1268.7" y="1560.9" font-size="22.0" fill="#444" text-anchor="middle" font-weight="normal" font-family="Liberation Sans, sans-serif" >Our model</text><line x1="876.3" y1="733" x2="876.3" y2="1570" stroke="#b5c5c8" stroke-width="1.8" stroke-dasharray="9.5 4.3"/></svg>
</body></html>
